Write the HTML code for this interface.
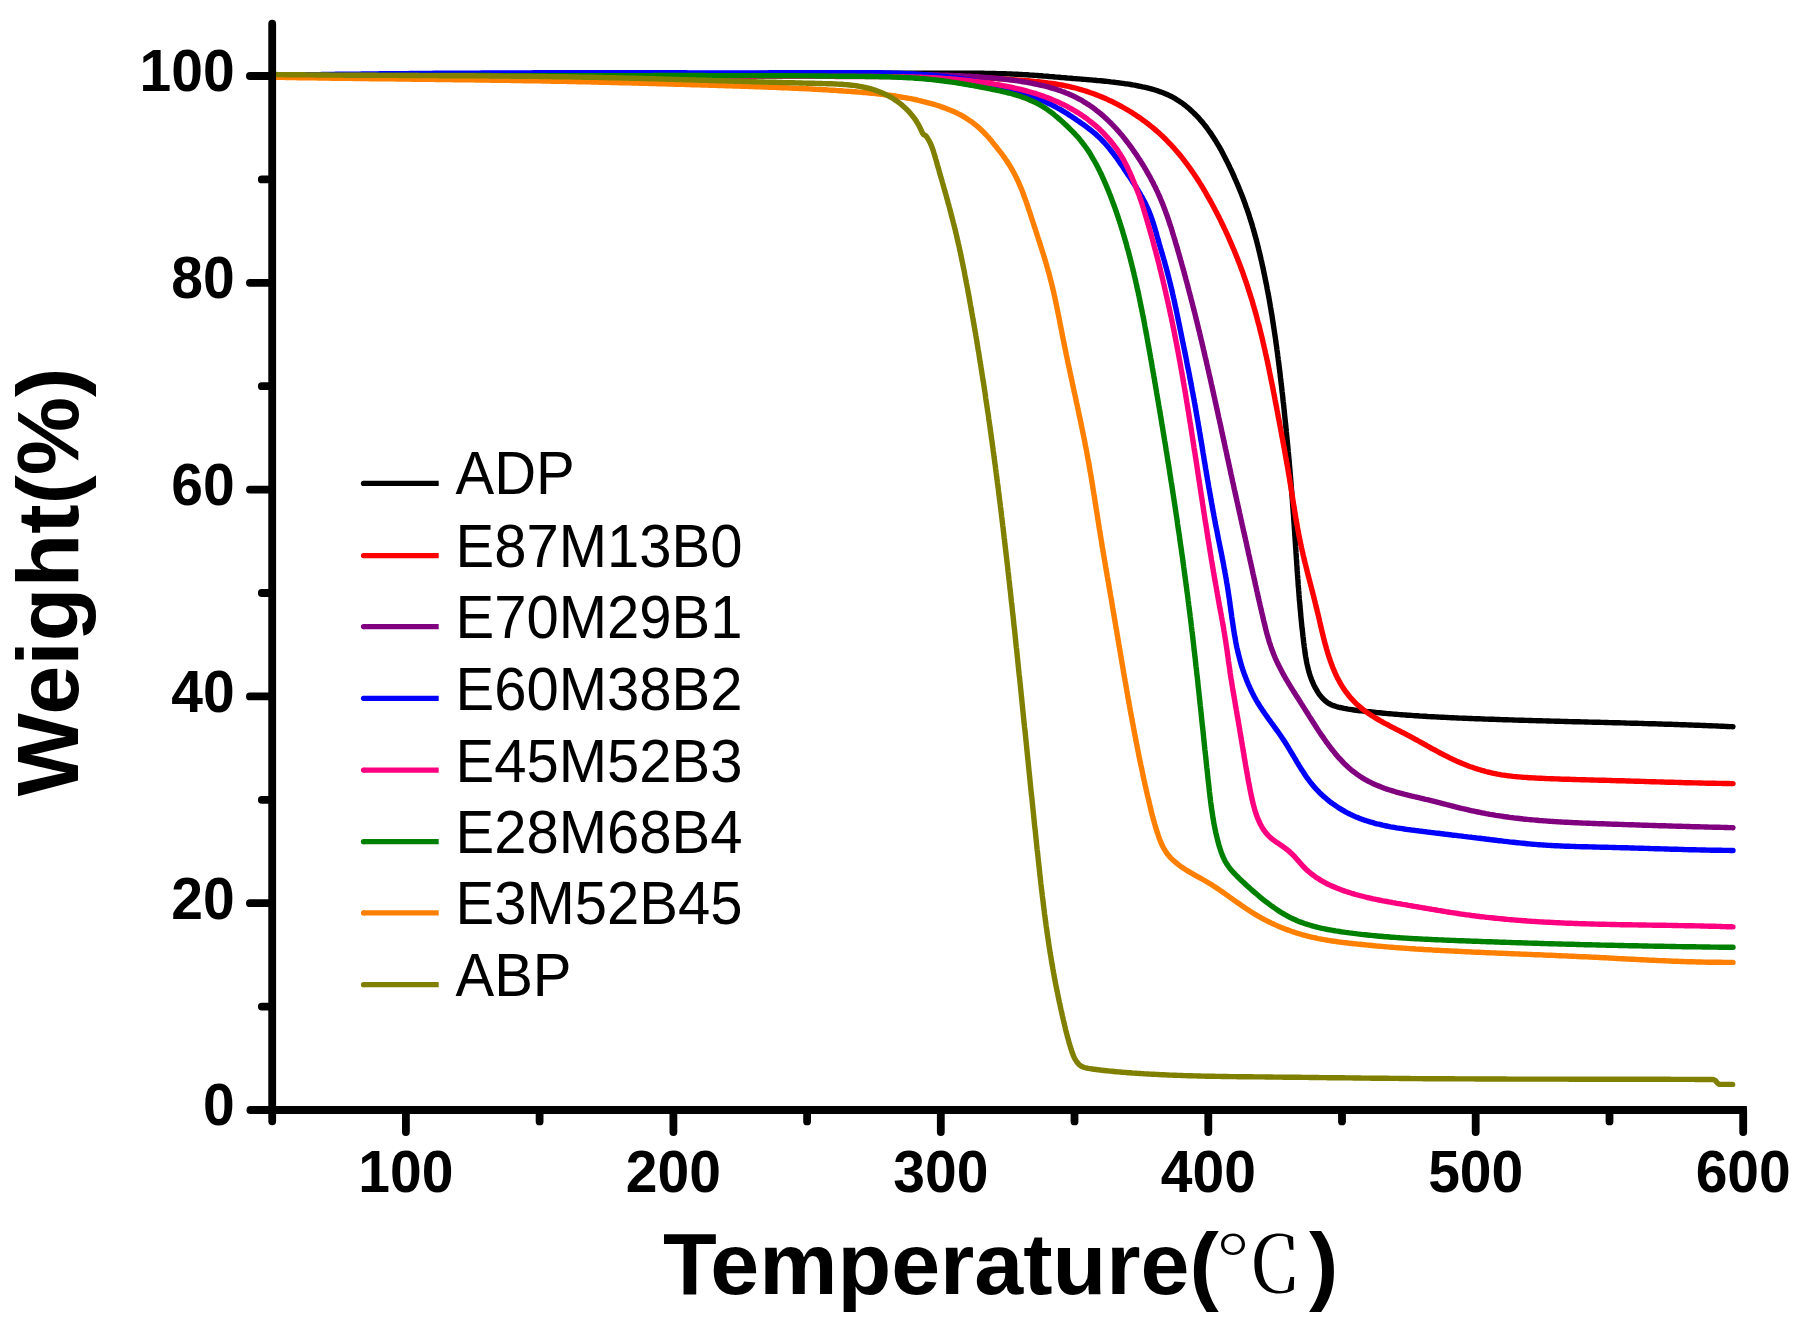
<!DOCTYPE html>
<html><head><meta charset="utf-8"><style>
html,body{margin:0;padding:0;background:#fff;width:1803px;height:1326px;overflow:hidden;}
svg{display:block;}
.tl{font-family:"Liberation Sans",Arial,sans-serif;font-weight:bold;font-size:57px;fill:#000;}
.ti{font-family:"Liberation Sans",Arial,sans-serif;font-weight:bold;font-size:88px;fill:#000;}
.deg{font-family:"Liberation Serif","Noto Serif CJK SC",serif;font-weight:normal;font-size:88px;fill:#000;}
.lg{font-family:"Liberation Sans",Arial,sans-serif;font-size:58px;fill:#000;}
</style></head><body>
<svg width="1803" height="1326" viewBox="0 0 1803 1326">
<rect width="100%" height="100%" fill="#fff"/>
<path d="M272.0,75.5 274.0,75.5 276.0,75.5 278.0,75.5 280.0,75.5 282.1,75.5 284.0,75.5 286.1,75.5 288.0,75.4 290.1,75.4 292.0,75.4 294.1,75.4 296.0,75.4 298.0,75.4 300.0,75.4 302.0,75.4 304.0,75.4 306.0,75.4 308.0,75.3 310.0,75.3 312.0,75.3 314.0,75.3 316.0,75.3 318.0,75.3 320.0,75.3 322.0,75.3 323.9,75.3 326.0,75.3 327.9,75.2 330.0,75.2 332.0,75.2 334.0,75.2 336.0,75.2 338.0,75.2 340.0,75.2 342.0,75.2 344.0,75.2 346.0,75.2 348.0,75.1 350.0,75.1 352.0,75.1 353.9,75.1 356.0,75.1 357.9,75.1 360.0,75.1 361.9,75.1 364.0,75.1 365.9,75.1 368.0,75.0 369.9,75.0 372.0,75.0 373.9,75.0 376.0,75.0 377.9,75.0 379.9,75.0 381.9,75.0 383.9,75.0 385.9,75.0 387.9,74.9 390.0,74.9 391.9,74.9 394.0,74.9 395.9,74.9 398.0,74.9 399.9,74.9 402.0,74.9 403.9,74.9 405.9,74.9 407.9,74.9 409.9,74.8 411.9,74.8 413.9,74.8 415.9,74.8 417.9,74.8 419.9,74.8 421.9,74.8 423.9,74.8 425.9,74.8 427.9,74.8 429.9,74.8 431.8,74.7 433.9,74.7 435.8,74.7 437.9,74.7 439.8,74.7 441.9,74.7 443.8,74.7 445.9,74.7 447.8,74.7 449.9,74.7 451.9,74.7 453.9,74.6 455.9,74.6 457.9,74.6 459.9,74.6 461.8,74.6 463.9,74.6 465.8,74.6 467.9,74.6 469.8,74.6 471.9,74.6 473.8,74.6 475.9,74.6 477.8,74.5 479.9,74.5 481.8,74.5 483.9,74.5 485.8,74.5 487.8,74.5 489.8,74.5 491.8,74.5 493.8,74.5 495.8,74.5 497.8,74.5 499.8,74.4 501.8,74.4 503.8,74.4 505.8,74.4 507.8,74.4 509.8,74.4 511.8,74.4 513.9,74.4 515.8,74.4 517.8,74.4 519.8,74.4 521.8,74.4 523.8,74.4 525.8,74.3 527.8,74.3 529.8,74.3 531.8,74.3 533.8,74.3 535.8,74.3 537.8,74.3 539.8,74.3 541.8,74.3 543.7,74.3 545.8,74.3 547.7,74.3 549.8,74.2 551.7,74.2 553.8,74.2 555.7,74.2 557.8,74.2 559.7,74.2 561.8,74.2 563.7,74.2 565.8,74.2 567.7,74.2 569.7,74.2 571.7,74.2 573.7,74.2 575.8,74.1 577.7,74.1 579.8,74.1 581.7,74.1 583.8,74.1 585.7,74.1 587.8,74.1 589.7,74.1 591.8,74.1 593.7,74.1 595.8,74.1 597.7,74.1 599.7,74.1 601.7,74.1 603.7,74.0 605.7,74.0 607.7,74.0 609.7,74.0 611.7,74.0 613.7,74.0 615.7,74.0 617.7,74.0 619.7,74.0 621.7,74.0 623.7,74.0 625.6,74.0 627.7,74.0 629.6,74.0 631.7,73.9 633.7,73.9 635.7,73.9 637.7,73.9 639.7,73.9 641.7,73.9 643.7,73.9 645.7,73.9 647.7,73.9 649.7,73.9 651.7,73.9 653.7,73.9 655.6,73.9 657.7,73.9 659.6,73.9 661.7,73.8 663.6,73.8 665.7,73.8 667.6,73.8 669.7,73.8 671.6,73.8 673.7,73.8 675.6,73.8 677.7,73.8 679.6,73.8 681.6,73.8 683.6,73.8 685.6,73.8 687.6,73.8 689.6,73.8 691.6,73.8 693.6,73.7 695.7,73.7 697.6,73.7 699.7,73.7 701.6,73.7 703.7,73.7 705.6,73.7 707.6,73.7 709.6,73.7 711.6,73.7 713.6,73.7 715.6,73.7 717.6,73.7 719.6,73.7 721.6,73.7 723.6,73.7 725.6,73.6 727.6,73.6 729.6,73.6 731.6,73.6 733.6,73.6 735.6,73.6 737.5,73.6 739.6,73.6 741.5,73.6 743.6,73.6 745.5,73.6 747.6,73.6 749.6,73.6 751.6,73.6 753.6,73.6 755.6,73.6 757.6,73.6 759.6,73.5 761.6,73.5 763.5,73.5 765.6,73.5 767.5,73.5 769.6,73.5 771.5,73.5 773.6,73.5 775.5,73.5 777.6,73.5 779.5,73.5 781.6,73.5 783.5,73.5 785.6,73.5 787.5,73.5 789.5,73.5 791.5,73.5 793.5,73.5 795.5,73.5 797.5,73.4 799.5,73.4 801.5,73.4 803.5,73.4 805.5,73.4 807.6,73.4 809.5,73.4 811.6,73.4 813.5,73.4 815.5,73.4 817.5,73.4 819.5,73.4 821.5,73.4 823.5,73.4 825.5,73.4 827.5,73.4 829.5,73.4 831.5,73.4 833.5,73.4 835.5,73.4 837.4,73.3 839.5,73.3 841.4,73.3 843.5,73.3 845.4,73.3 847.5,73.3 849.4,73.3 851.5,73.3 853.4,73.3 855.5,73.3 857.5,73.3 859.5,73.3 861.5,73.3 863.4,73.3 865.5,73.3 867.4,73.3 869.5,73.3 871.4,73.3 873.5,73.3 875.4,73.3 877.5,73.3 879.4,73.3 881.5,73.3 883.4,73.3 885.5,73.3 887.4,73.2 889.5,73.2 891.4,73.2 893.4,73.2 895.4,73.2 897.4,73.2 899.4,73.2 901.4,73.2 903.4,73.2 905.4,73.2 907.4,73.2 909.4,73.2 911.4,73.2 913.4,73.2 915.4,73.2 917.4,73.2 919.5,73.2 921.4,73.2 923.4,73.2 925.4,73.2 927.4,73.2 929.4,73.2 931.4,73.2 933.4,73.2 935.4,73.2 937.4,73.2 939.4,73.2 941.4,73.2 943.4,73.2 945.4,73.2 947.4,73.2 949.4,73.2 951.4,73.2 953.4,73.2 955.4,73.2 957.3,73.2 959.4,73.2 961.3,73.2 963.4,73.2 965.3,73.2 967.4,73.2 969.3,73.2 971.4,73.3 973.3,73.3 975.4,73.3 977.3,73.3 979.4,73.3 981.3,73.3 983.4,73.3 985.3,73.4 987.4,73.4 989.3,73.4 991.4,73.4 993.3,73.5 995.4,73.5 997.3,73.6 999.3,73.6 1001.3,73.7 1003.3,73.7 1005.3,73.8 1007.3,73.9 1009.3,73.9 1011.3,74.0 1013.3,74.1 1015.3,74.2 1017.2,74.3 1019.3,74.4 1021.3,74.5 1023.3,74.6 1025.3,74.7 1027.3,74.8 1029.3,75.0 1031.2,75.1 1033.3,75.2 1035.2,75.4 1037.3,75.5 1039.2,75.7 1041.2,75.8 1043.2,76.0 1045.2,76.1 1047.2,76.3 1049.2,76.5 1051.1,76.6 1053.2,76.8 1055.1,77.0 1057.2,77.1 1059.1,77.3 1061.2,77.5 1063.1,77.6 1065.2,77.8 1067.1,78.0 1069.1,78.1 1071.1,78.3 1073.1,78.5 1075.0,78.6 1077.1,78.8 1079.0,78.9 1081.0,79.1 1083.1,79.3 1085.0,79.4 1087.0,79.6 1089.0,79.8 1091.0,79.9 1093.0,80.1 1095.0,80.3 1097.0,80.5 1098.9,80.6 1100.9,80.8 1103.0,81.0 1104.9,81.2 1106.9,81.4 1108.9,81.6 1110.9,81.9 1112.8,82.1 1114.9,82.3 1116.8,82.6 1118.9,82.8 1120.8,83.1 1122.7,83.4 1124.8,83.7 1126.7,83.9 1128.7,84.2 1130.6,84.5 1132.7,84.9 1134.6,85.2 1136.6,85.6 1138.5,86.0 1140.5,86.3 1142.5,86.8 1144.4,87.2 1146.4,87.6 1148.3,88.1 1150.2,88.6 1152.2,89.2 1154.1,89.7 1156.0,90.3 1157.9,90.9 1159.7,91.6 1161.7,92.3 1163.6,93.0 1165.3,93.7 1167.2,94.5 1169.1,95.4 1170.8,96.2 1172.6,97.2 1174.4,98.1 1176.1,99.2 1177.7,100.2 1179.4,101.3 1181.1,102.4 1182.8,103.6 1184.3,104.7 1185.9,106.0 1187.5,107.3 1188.9,108.5 1190.5,109.9 1191.9,111.2 1193.4,112.6 1194.8,114.0 1196.2,115.4 1197.6,116.8 1198.9,118.3 1200.2,119.8 1201.6,121.3 1202.8,122.8 1204.1,124.4 1205.4,126.0 1206.6,127.5 1207.8,129.2 1208.9,130.8 1210.1,132.4 1211.3,134.1 1212.3,135.7 1213.4,137.3 1214.5,139.1 1215.6,140.7 1216.6,142.5 1217.6,144.1 1218.7,145.9 1219.7,147.6 1220.7,149.4 1221.6,151.1 1222.5,152.8 1223.5,154.7 1224.4,156.4 1225.3,158.2 1226.2,160.0 1227.1,161.8 1228.0,163.5 1228.9,165.4 1229.7,167.2 1230.6,168.9 1231.4,170.8 1232.3,172.5 1233.1,174.4 1233.9,176.2 1234.7,178.1 1235.5,179.8 1236.3,181.7 1237.1,183.5 1237.9,185.4 1238.7,187.3 1239.4,189.1 1240.2,191.0 1240.9,192.8 1241.7,194.7 1242.4,196.5 1243.1,198.4 1243.8,200.2 1244.5,202.1 1245.2,204.0 1245.8,205.9 1246.5,207.7 1247.2,209.7 1247.8,211.5 1248.5,213.5 1249.1,215.3 1249.7,217.3 1250.3,219.1 1250.9,221.1 1251.5,222.9 1252.1,224.9 1252.6,226.8 1253.2,228.7 1253.7,230.6 1254.3,232.5 1254.8,234.5 1255.3,236.4 1255.9,238.3 1256.4,240.2 1256.9,242.2 1257.4,244.1 1257.9,246.1 1258.4,248.0 1258.8,249.9 1259.3,251.9 1259.8,253.8 1260.2,255.8 1260.7,257.7 1261.1,259.6 1261.6,261.6 1262.0,263.5 1262.4,265.5 1262.9,267.4 1263.3,269.4 1263.7,271.4 1264.1,273.4 1264.5,275.3 1264.9,277.2 1265.3,279.2 1265.7,281.1 1266.1,283.1 1266.5,285.0 1266.9,287.1 1267.2,289.0 1267.6,291.0 1268.0,292.9 1268.4,294.9 1268.7,296.8 1269.1,298.9 1269.4,300.8 1269.8,302.8 1270.1,304.7 1270.4,306.7 1270.8,308.7 1271.1,310.7 1271.4,312.6 1271.8,314.6 1272.1,316.5 1272.4,318.6 1272.7,320.5 1273.0,322.5 1273.3,324.4 1273.6,326.5 1273.9,328.4 1274.2,330.3 1274.5,332.3 1274.8,334.3 1275.1,336.3 1275.4,338.2 1275.7,340.3 1275.9,342.2 1276.2,344.2 1276.5,346.1 1276.8,348.2 1277.0,350.1 1277.3,352.1 1277.6,354.1 1277.8,356.1 1278.1,358.0 1278.3,360.1 1278.6,362.0 1278.8,364.0 1279.1,366.0 1279.3,368.0 1279.6,369.9 1279.8,372.0 1280.1,373.9 1280.3,376.0 1280.5,377.9 1280.8,379.9 1281.0,381.9 1281.2,383.9 1281.5,385.8 1281.7,387.8 1281.9,389.8 1282.1,391.8 1282.4,393.8 1282.6,395.7 1282.8,397.8 1283.0,399.7 1283.2,401.8 1283.5,403.7 1283.7,405.7 1283.9,407.7 1284.1,409.6 1284.3,411.7 1284.5,413.6 1284.7,415.7 1284.9,417.6 1285.1,419.6 1285.3,421.6 1285.5,423.5 1285.8,425.6 1285.9,427.5 1286.2,429.6 1286.3,431.5 1286.5,433.6 1286.7,435.5 1286.9,437.5 1287.1,439.5 1287.3,441.4 1287.5,443.5 1287.7,445.4 1287.9,447.5 1288.1,449.4 1288.2,451.5 1288.4,453.4 1288.6,455.4 1288.8,457.4 1289.0,459.4 1289.1,461.4 1289.3,463.3 1289.5,465.4 1289.7,467.3 1289.8,469.3 1290.0,471.3 1290.2,473.3 1290.4,475.3 1290.5,477.3 1290.7,479.3 1290.8,481.3 1291.0,483.3 1291.2,485.3 1291.3,487.3 1291.5,489.2 1291.7,491.2 1291.8,493.2 1292.0,495.2 1292.1,497.2 1292.3,499.2 1292.4,501.2 1292.6,503.2 1292.7,505.2 1292.9,507.2 1293.0,509.2 1293.2,511.1 1293.3,513.2 1293.5,515.1 1293.6,517.2 1293.7,519.1 1293.9,521.2 1294.0,523.1 1294.2,525.1 1294.3,527.1 1294.4,529.1 1294.6,531.1 1294.7,533.1 1294.8,535.1 1295.0,537.1 1295.1,539.0 1295.2,541.1 1295.4,543.0 1295.5,545.1 1295.6,547.0 1295.8,549.0 1295.9,551.0 1296.0,553.0 1296.2,555.1 1296.3,557.0 1296.4,559.0 1296.6,561.0 1296.7,563.0 1296.8,565.0 1297.0,567.0 1297.1,569.0 1297.2,571.0 1297.4,572.9 1297.5,575.0 1297.7,576.9 1297.8,579.0 1298.0,580.9 1298.1,582.9 1298.2,584.9 1298.4,586.9 1298.6,588.9 1298.7,590.9 1298.9,592.9 1299.0,594.9 1299.2,596.9 1299.3,598.9 1299.5,600.9 1299.7,602.8 1299.9,604.8 1300.0,606.8 1300.2,608.8 1300.4,610.8 1300.6,612.7 1300.7,614.8 1300.9,616.7 1301.1,618.8 1301.3,620.8 1301.5,622.7 1301.7,624.8 1301.9,626.7 1302.1,628.7 1302.4,630.7 1302.6,632.7 1302.8,634.6 1303.0,636.6 1303.3,638.7 1303.5,640.6 1303.7,642.6 1304.0,644.5 1304.2,646.6 1304.5,648.6 1304.8,650.5 1305.0,652.5 1305.3,654.4 1305.6,656.5 1306.0,658.4 1306.3,660.3 1306.7,662.4 1307.1,664.3 1307.6,666.3 1308.0,668.2 1308.5,670.1 1309.0,672.1 1309.6,674.0 1310.2,675.9 1310.9,677.8 1311.6,679.7 1312.3,681.4 1313.1,683.3 1313.9,685.1 1314.8,686.9 1315.8,688.7 1316.8,690.4 1317.8,692.1 1318.9,693.8 1320.1,695.4 1321.4,697.0 1322.7,698.4 1324.1,699.8 1325.6,701.1 1327.2,702.4 1328.9,703.5 1330.6,704.4 1332.5,705.2 1334.4,705.9 1336.2,706.5 1338.2,707.1 1340.1,707.5 1342.0,707.9 1344.0,708.4 1346.0,708.7 1348.0,709.1 1349.9,709.4 1351.9,709.7 1353.9,710.0 1355.9,710.2 1357.8,710.5 1359.9,710.7 1361.8,710.9 1363.8,711.2 1365.8,711.4 1367.8,711.6 1369.7,711.8 1371.8,712.0 1373.7,712.2 1375.7,712.4 1377.7,712.6 1379.7,712.8 1381.6,713.0 1383.7,713.2 1385.6,713.4 1387.7,713.6 1389.6,713.7 1391.7,713.9 1393.6,714.1 1395.6,714.2 1397.6,714.4 1399.6,714.6 1401.6,714.7 1403.6,714.9 1405.6,715.0 1407.6,715.2 1409.5,715.3 1411.6,715.4 1413.5,715.6 1415.5,715.7 1417.5,715.8 1419.5,716.0 1421.5,716.1 1423.5,716.2 1425.5,716.3 1427.5,716.5 1429.5,716.6 1431.5,716.7 1433.5,716.8 1435.5,716.9 1437.5,717.0 1439.5,717.1 1441.5,717.2 1443.5,717.3 1445.4,717.4 1447.5,717.5 1449.4,717.6 1451.5,717.7 1453.4,717.8 1455.4,717.9 1457.4,718.0 1459.4,718.1 1461.4,718.1 1463.4,718.2 1465.4,718.3 1467.4,718.4 1469.4,718.5 1471.4,718.5 1473.4,718.6 1475.4,718.7 1477.4,718.8 1479.4,718.8 1481.4,718.9 1483.3,719.0 1485.4,719.1 1487.3,719.1 1489.4,719.2 1491.3,719.3 1493.4,719.3 1495.3,719.4 1497.4,719.5 1499.3,719.5 1501.4,719.6 1503.3,719.7 1505.4,719.7 1507.3,719.8 1509.4,719.9 1511.3,719.9 1513.4,720.0 1515.3,720.1 1517.3,720.1 1519.3,720.2 1521.3,720.2 1523.3,720.3 1525.3,720.4 1527.3,720.4 1529.3,720.5 1531.3,720.5 1533.3,720.6 1535.3,720.6 1537.3,720.7 1539.3,720.8 1541.3,720.8 1543.2,720.9 1545.3,720.9 1547.3,721.0 1549.3,721.0 1551.3,721.1 1553.3,721.1 1555.3,721.2 1557.3,721.2 1559.3,721.3 1561.3,721.4 1563.3,721.4 1565.3,721.5 1567.3,721.5 1569.2,721.6 1571.3,721.6 1573.2,721.7 1575.3,721.7 1577.2,721.8 1579.3,721.8 1581.2,721.9 1583.3,721.9 1585.2,722.0 1587.3,722.0 1589.2,722.1 1591.2,722.1 1593.2,722.2 1595.2,722.2 1597.2,722.3 1599.2,722.3 1601.2,722.4 1603.2,722.4 1605.3,722.5 1607.2,722.5 1609.2,722.6 1611.2,722.6 1613.2,722.7 1615.2,722.7 1617.2,722.8 1619.2,722.8 1621.2,722.9 1623.2,722.9 1625.2,723.0 1627.2,723.1 1629.2,723.1 1631.1,723.2 1633.2,723.2 1635.1,723.3 1637.2,723.3 1639.1,723.4 1641.2,723.4 1643.1,723.5 1645.2,723.6 1647.1,723.6 1649.2,723.7 1651.1,723.7 1653.2,723.8 1655.1,723.8 1657.1,723.9 1659.1,724.0 1661.1,724.0 1663.1,724.1 1665.1,724.2 1667.2,724.2 1669.1,724.3 1671.2,724.3 1673.1,724.4 1675.2,724.5 1677.1,724.5 1679.2,724.6 1681.1,724.7 1683.1,724.7 1685.1,724.8 1687.1,724.9 1689.1,725.0 1691.1,725.0 1693.1,725.1 1695.1,725.2 1697.1,725.2 1699.1,725.3 1701.1,725.4 1703.0,725.5 1705.1,725.5 1707.0,725.6 1709.1,725.7 1711.0,725.8 1713.1,725.9 1715.0,725.9 1717.1,726.0 1719.0,726.1 1721.1,726.2 1723.0,726.3 1725.1,726.4 1727.0,726.5 1729.1,726.6 1731.0,726.6 1733.0,726.7" fill="none" stroke="#000000" stroke-width="5.4" stroke-linejoin="round" stroke-linecap="round"/>
<path d="M272.0,75.5 274.0,75.5 276.0,75.5 278.0,75.5 280.0,75.5 282.0,75.5 284.0,75.5 286.0,75.5 288.0,75.5 290.0,75.5 292.0,75.5 294.0,75.5 296.0,75.5 298.1,75.5 300.1,75.5 302.1,75.4 304.1,75.4 306.1,75.4 308.1,75.4 310.1,75.4 312.1,75.4 314.1,75.4 316.0,75.4 318.0,75.4 320.0,75.4 322.0,75.4 324.0,75.4 326.0,75.4 328.0,75.4 330.0,75.4 332.0,75.4 334.0,75.4 336.0,75.4 338.0,75.4 340.0,75.4 342.1,75.4 344.1,75.4 346.1,75.4 348.1,75.4 350.1,75.4 352.1,75.4 354.1,75.4 356.1,75.4 358.1,75.4 360.0,75.4 362.0,75.4 364.0,75.4 366.0,75.4 368.0,75.4 370.0,75.4 372.0,75.4 374.0,75.4 376.0,75.3 378.0,75.3 380.0,75.3 382.0,75.3 384.0,75.3 386.1,75.3 388.1,75.3 390.1,75.3 392.1,75.3 394.1,75.3 396.1,75.3 398.1,75.3 400.1,75.3 402.1,75.3 404.0,75.3 406.0,75.3 408.0,75.3 410.0,75.3 412.0,75.3 414.0,75.3 416.0,75.3 418.0,75.3 420.0,75.3 422.0,75.3 424.0,75.3 426.0,75.3 428.0,75.3 430.0,75.3 432.1,75.3 434.1,75.3 436.1,75.3 438.1,75.3 440.1,75.3 442.1,75.2 444.1,75.2 446.1,75.2 448.1,75.2 450.0,75.2 452.0,75.2 454.0,75.2 456.0,75.2 458.0,75.2 460.0,75.2 462.0,75.2 464.0,75.2 466.0,75.2 468.0,75.2 470.0,75.2 472.0,75.2 474.0,75.2 476.0,75.2 478.1,75.2 480.1,75.2 482.1,75.2 484.1,75.2 486.1,75.2 488.1,75.2 490.1,75.2 492.1,75.2 494.0,75.2 496.0,75.2 498.0,75.2 500.0,75.2 502.0,75.2 504.0,75.2 506.0,75.1 508.0,75.1 510.0,75.1 512.0,75.1 514.0,75.1 516.0,75.1 518.0,75.1 520.0,75.1 522.0,75.1 524.1,75.1 526.1,75.1 528.1,75.1 530.1,75.1 532.1,75.1 534.1,75.1 536.1,75.1 538.1,75.1 540.0,75.1 542.0,75.1 544.0,75.1 546.0,75.1 548.0,75.1 550.0,75.1 552.0,75.1 554.0,75.1 556.0,75.1 558.0,75.1 560.0,75.1 562.0,75.1 564.0,75.1 566.0,75.0 568.0,75.0 570.1,75.0 572.1,75.0 574.1,75.0 576.1,75.0 578.1,75.0 580.1,75.0 582.1,75.0 584.1,75.0 586.0,75.0 588.0,75.0 590.0,75.0 592.0,75.0 594.0,75.0 596.0,75.0 598.0,75.0 600.0,75.0 602.0,75.0 604.0,75.0 606.0,75.0 608.0,75.0 610.0,75.0 612.0,75.0 614.0,75.0 616.1,75.0 618.1,75.0 620.1,75.0 622.1,75.0 624.1,75.0 626.1,74.9 628.1,74.9 630.1,74.9 632.0,74.9 634.0,74.9 636.0,74.9 638.0,74.9 640.0,74.9 642.0,74.9 644.0,74.9 646.0,74.9 648.0,74.9 650.0,74.9 652.0,74.9 654.0,74.9 656.0,74.9 658.0,74.9 660.0,74.9 662.1,74.9 664.1,74.9 666.1,74.9 668.1,74.9 670.1,74.9 672.1,74.9 674.1,74.9 676.0,74.9 678.0,74.9 680.0,74.9 682.0,74.9 684.0,74.8 686.0,74.8 688.0,74.8 690.0,74.8 692.0,74.8 694.0,74.8 696.0,74.8 698.0,74.8 700.0,74.8 702.0,74.8 704.0,74.8 706.1,74.8 708.1,74.8 710.1,74.8 712.1,74.8 714.1,74.8 716.1,74.8 718.1,74.8 720.1,74.8 722.0,74.8 724.0,74.8 726.0,74.8 728.0,74.8 730.0,74.8 732.0,74.8 734.0,74.8 736.0,74.8 738.0,74.8 740.0,74.8 742.0,74.7 744.0,74.7 746.0,74.7 748.0,74.7 750.1,74.7 752.1,74.7 754.1,74.7 756.1,74.7 758.1,74.7 760.1,74.7 762.1,74.7 764.1,74.7 766.0,74.7 768.0,74.7 770.0,74.7 772.0,74.7 774.0,74.7 776.0,74.7 778.0,74.7 780.0,74.7 782.0,74.7 784.0,74.7 786.0,74.7 788.0,74.7 790.0,74.7 792.0,74.7 794.1,74.7 796.1,74.7 798.1,74.6 800.1,74.6 802.1,74.6 804.1,74.6 806.1,74.6 808.0,74.6 810.0,74.6 812.0,74.6 814.0,74.6 816.0,74.6 818.0,74.6 820.0,74.6 822.0,74.6 824.0,74.6 826.0,74.6 828.0,74.6 830.0,74.6 832.0,74.6 834.0,74.6 836.1,74.6 838.1,74.6 840.1,74.6 842.1,74.6 844.1,74.6 846.1,74.6 848.1,74.6 850.0,74.6 852.0,74.6 854.0,74.6 856.0,74.6 858.0,74.6 860.0,74.6 862.0,74.6 864.0,74.6 866.0,74.6 868.0,74.6 870.0,74.6 872.0,74.6 874.0,74.6 876.0,74.7 878.0,74.7 880.0,74.7 882.1,74.7 884.1,74.7 886.1,74.7 888.1,74.7 890.1,74.8 892.1,74.8 894.1,74.8 896.0,74.8 898.0,74.9 900.0,74.9 902.0,74.9 904.0,74.9 906.0,75.0 908.0,75.0 910.0,75.0 912.0,75.1 914.0,75.1 916.0,75.2 918.0,75.2 920.0,75.2 922.0,75.3 924.0,75.3 926.0,75.4 928.0,75.4 930.0,75.5 932.0,75.5 934.0,75.6 936.0,75.7 938.0,75.7 940.0,75.8 942.0,75.8 944.0,75.9 946.0,76.0 948.0,76.1 950.0,76.1 952.1,76.2 954.1,76.3 956.1,76.4 958.0,76.4 960.0,76.5 962.0,76.6 964.0,76.7 966.0,76.8 968.0,76.9 970.0,77.0 972.0,77.1 974.0,77.2 976.0,77.3 978.0,77.4 980.0,77.5 982.0,77.7 984.0,77.8 986.0,77.9 988.0,78.0 990.0,78.1 992.0,78.3 994.0,78.4 996.0,78.5 998.0,78.7 1000.0,78.8 1002.0,78.9 1004.0,79.1 1005.9,79.2 1007.9,79.3 1009.9,79.5 1011.9,79.6 1013.9,79.8 1015.9,79.9 1017.9,80.1 1019.9,80.2 1021.9,80.4 1023.9,80.5 1025.9,80.7 1027.8,80.8 1029.8,81.0 1031.8,81.2 1033.8,81.4 1035.8,81.6 1037.8,81.8 1039.8,82.0 1041.8,82.2 1043.8,82.4 1045.8,82.6 1047.8,82.9 1049.8,83.1 1051.8,83.4 1053.7,83.7 1055.7,84.0 1057.7,84.3 1059.7,84.7 1061.6,85.0 1063.6,85.4 1065.5,85.8 1067.5,86.2 1069.4,86.6 1071.4,87.1 1073.3,87.5 1075.3,88.0 1077.2,88.5 1079.1,89.1 1081.0,89.6 1082.9,90.2 1084.8,90.8 1086.7,91.4 1088.6,92.0 1090.5,92.7 1092.4,93.3 1094.3,94.0 1096.2,94.7 1098.1,95.5 1100.0,96.2 1101.8,97.0 1103.6,97.8 1105.5,98.6 1107.3,99.4 1109.0,100.2 1110.9,101.0 1112.7,101.9 1114.5,102.8 1116.2,103.7 1118.0,104.6 1119.8,105.6 1121.6,106.5 1123.3,107.5 1125.1,108.5 1126.8,109.5 1128.5,110.5 1130.2,111.5 1131.9,112.6 1133.6,113.7 1135.3,114.8 1136.9,115.9 1138.6,117.0 1140.3,118.1 1141.9,119.3 1143.5,120.5 1145.1,121.6 1146.7,122.8 1148.3,124.0 1149.9,125.3 1151.4,126.5 1153.0,127.8 1154.5,129.1 1156.0,130.4 1157.5,131.7 1159.0,133.0 1160.5,134.4 1162.0,135.8 1163.4,137.1 1164.8,138.5 1166.2,139.9 1167.6,141.3 1169.0,142.8 1170.5,144.3 1171.8,145.8 1173.2,147.2 1174.5,148.7 1175.8,150.2 1177.1,151.7 1178.4,153.2 1179.7,154.8 1180.9,156.3 1182.2,157.9 1183.4,159.5 1184.6,161.0 1185.8,162.6 1187.0,164.2 1188.2,165.8 1189.4,167.4 1190.5,169.1 1191.7,170.7 1192.8,172.4 1194.0,174.0 1195.1,175.7 1196.2,177.3 1197.3,179.0 1198.4,180.7 1199.4,182.4 1200.5,184.1 1201.6,185.8 1202.6,187.5 1203.6,189.3 1204.7,191.0 1205.7,192.7 1206.6,194.4 1207.6,196.1 1208.6,197.9 1209.6,199.6 1210.6,201.4 1211.6,203.1 1212.5,204.9 1213.5,206.7 1214.4,208.4 1215.3,210.2 1216.3,212.0 1217.1,213.7 1218.1,215.5 1219.0,217.3 1219.9,219.1 1220.8,220.9 1221.6,222.7 1222.5,224.5 1223.4,226.3 1224.2,228.1 1225.1,229.9 1225.9,231.7 1226.8,233.6 1227.6,235.4 1228.4,237.2 1229.2,239.0 1230.0,240.8 1230.8,242.6 1231.6,244.5 1232.4,246.3 1233.2,248.2 1234.0,250.0 1234.7,251.9 1235.5,253.7 1236.2,255.6 1237.0,257.4 1237.7,259.3 1238.4,261.2 1239.2,263.0 1239.9,264.9 1240.6,266.8 1241.3,268.7 1242.0,270.5 1242.7,272.4 1243.3,274.3 1244.0,276.2 1244.7,278.1 1245.3,280.0 1246.0,281.9 1246.6,283.8 1247.3,285.7 1247.9,287.6 1248.5,289.5 1249.1,291.4 1249.7,293.2 1250.3,295.1 1250.9,297.0 1251.5,298.9 1252.1,300.8 1252.7,302.8 1253.2,304.7 1253.8,306.6 1254.3,308.5 1254.9,310.4 1255.4,312.4 1256.0,314.3 1256.5,316.2 1257.0,318.2 1257.5,320.1 1258.0,322.0 1258.6,324.0 1259.1,325.9 1259.6,327.8 1260.0,329.8 1260.5,331.7 1261.0,333.7 1261.5,335.6 1262.0,337.6 1262.4,339.5 1262.9,341.5 1263.3,343.4 1263.8,345.4 1264.2,347.3 1264.7,349.3 1265.1,351.2 1265.5,353.1 1266.0,355.1 1266.4,357.0 1266.8,359.0 1267.3,360.9 1267.7,362.9 1268.1,364.9 1268.5,366.8 1268.9,368.8 1269.3,370.8 1269.7,372.7 1270.1,374.7 1270.5,376.6 1270.9,378.6 1271.3,380.6 1271.7,382.5 1272.1,384.5 1272.5,386.4 1272.9,388.4 1273.2,390.3 1273.6,392.3 1274.0,394.3 1274.4,396.2 1274.8,398.2 1275.1,400.2 1275.5,402.1 1275.9,404.1 1276.3,406.1 1276.7,408.0 1277.0,410.0 1277.4,412.0 1277.8,414.0 1278.1,415.9 1278.5,417.9 1278.9,419.9 1279.3,421.8 1279.6,423.8 1280.0,425.8 1280.4,427.7 1280.7,429.7 1281.1,431.6 1281.5,433.5 1281.8,435.5 1282.2,437.5 1282.6,439.4 1282.9,441.4 1283.3,443.4 1283.6,445.4 1284.0,447.3 1284.4,449.3 1284.7,451.3 1285.1,453.2 1285.4,455.2 1285.8,457.2 1286.1,459.1 1286.5,461.1 1286.8,463.1 1287.2,465.1 1287.5,467.0 1287.9,469.0 1288.2,471.0 1288.5,473.0 1288.9,474.9 1289.2,476.9 1289.5,478.9 1289.8,480.9 1290.2,482.9 1290.5,484.8 1290.8,486.7 1291.1,488.7 1291.4,490.7 1291.7,492.7 1292.1,494.7 1292.4,496.6 1292.7,498.6 1293.0,500.6 1293.3,502.6 1293.6,504.6 1294.0,506.5 1294.3,508.5 1294.6,510.5 1294.9,512.4 1295.2,514.4 1295.6,516.4 1295.9,518.3 1296.2,520.3 1296.6,522.3 1296.9,524.3 1297.3,526.2 1297.6,528.2 1298.0,530.2 1298.4,532.2 1298.7,534.1 1299.1,536.1 1299.5,538.1 1299.9,540.0 1300.3,542.0 1300.7,543.9 1301.1,545.9 1301.5,547.8 1302.0,549.8 1302.4,551.7 1302.9,553.7 1303.3,555.6 1303.8,557.6 1304.2,559.5 1304.7,561.5 1305.2,563.4 1305.7,565.4 1306.2,567.3 1306.6,569.2 1307.1,571.2 1307.6,573.1 1308.1,575.0 1308.6,577.0 1309.1,578.9 1309.6,580.9 1310.1,582.8 1310.6,584.7 1311.1,586.7 1311.6,588.6 1312.1,590.5 1312.6,592.5 1313.1,594.4 1313.6,596.4 1314.1,598.3 1314.6,600.3 1315.1,602.2 1315.5,604.1 1316.0,606.0 1316.5,608.0 1317.0,609.9 1317.4,611.9 1317.9,613.8 1318.4,615.8 1318.8,617.7 1319.3,619.7 1319.7,621.6 1320.2,623.5 1320.6,625.5 1321.1,627.5 1321.5,629.4 1322.0,631.4 1322.5,633.3 1322.9,635.2 1323.4,637.1 1323.9,639.1 1324.4,641.0 1324.9,643.0 1325.4,644.9 1326.0,646.9 1326.5,648.8 1327.1,650.7 1327.6,652.6 1328.2,654.5 1328.8,656.5 1329.5,658.4 1330.1,660.2 1330.8,662.1 1331.5,664.0 1332.2,665.9 1332.9,667.7 1333.7,669.6 1334.4,671.4 1335.3,673.3 1336.1,675.1 1336.9,676.9 1337.8,678.7 1338.8,680.4 1339.7,682.2 1340.7,683.9 1341.7,685.6 1342.8,687.3 1343.9,689.0 1345.0,690.7 1346.2,692.3 1347.4,693.8 1348.7,695.5 1349.9,697.0 1351.2,698.5 1352.6,699.9 1354.0,701.4 1355.4,702.8 1356.8,704.2 1358.3,705.5 1359.9,706.9 1361.4,708.1 1362.9,709.4 1364.5,710.6 1366.1,711.8 1367.8,713.0 1369.4,714.1 1371.1,715.2 1372.8,716.3 1374.4,717.3 1376.2,718.4 1377.9,719.4 1379.6,720.4 1381.4,721.4 1383.1,722.4 1384.8,723.3 1386.6,724.2 1388.4,725.2 1390.1,726.1 1391.9,727.1 1393.7,727.9 1395.5,728.9 1397.3,729.8 1399.1,730.7 1400.8,731.6 1402.6,732.5 1404.4,733.4 1406.2,734.3 1408.0,735.3 1409.7,736.2 1411.4,737.1 1413.2,738.1 1415.0,739.1 1416.7,740.0 1418.5,741.0 1420.2,742.0 1422.0,742.9 1423.7,743.9 1425.5,744.9 1427.2,745.9 1429.0,746.8 1430.7,747.8 1432.4,748.8 1434.2,749.7 1435.9,750.7 1437.7,751.6 1439.5,752.6 1441.2,753.5 1443.0,754.4 1444.8,755.3 1446.5,756.2 1448.4,757.2 1450.2,758.1 1452.0,758.9 1453.8,759.8 1455.6,760.6 1457.5,761.4 1459.3,762.2 1461.1,763.0 1462.9,763.8 1464.8,764.5 1466.6,765.2 1468.5,766.0 1470.4,766.7 1472.3,767.3 1474.2,768.0 1476.1,768.6 1478.0,769.2 1479.9,769.8 1481.8,770.4 1483.8,770.9 1485.7,771.5 1487.6,772.0 1489.6,772.4 1491.5,772.9 1493.5,773.3 1495.4,773.7 1497.4,774.1 1499.4,774.4 1501.3,774.8 1503.3,775.1 1505.3,775.4 1507.3,775.7 1509.3,775.9 1511.2,776.1 1513.2,776.4 1515.2,776.6 1517.2,776.8 1519.2,776.9 1521.1,777.1 1523.1,777.3 1525.1,777.4 1527.1,777.5 1529.1,777.7 1531.1,777.8 1533.1,777.9 1535.1,778.0 1537.1,778.1 1539.2,778.2 1541.2,778.3 1543.2,778.4 1545.1,778.5 1547.1,778.6 1549.1,778.6 1551.1,778.7 1553.1,778.8 1555.1,778.9 1557.1,778.9 1559.1,779.0 1561.1,779.1 1563.1,779.2 1565.1,779.2 1567.1,779.3 1569.1,779.3 1571.1,779.4 1573.1,779.5 1575.1,779.5 1577.1,779.6 1579.1,779.6 1581.1,779.7 1583.1,779.7 1585.1,779.8 1587.1,779.9 1589.1,779.9 1591.1,780.0 1593.0,780.0 1595.0,780.1 1597.1,780.1 1599.1,780.2 1601.1,780.2 1603.1,780.3 1605.1,780.3 1607.1,780.4 1609.1,780.4 1611.1,780.5 1613.1,780.6 1615.1,780.6 1617.1,780.7 1619.1,780.7 1621.1,780.8 1623.1,780.8 1625.1,780.9 1627.1,781.0 1629.1,781.0 1631.1,781.1 1633.1,781.1 1635.1,781.2 1637.1,781.3 1639.1,781.3 1641.1,781.4 1643.1,781.4 1645.0,781.5 1647.0,781.6 1649.0,781.6 1651.0,781.7 1653.0,781.7 1655.0,781.8 1657.0,781.9 1659.1,781.9 1661.1,782.0 1663.1,782.0 1665.1,782.1 1667.1,782.2 1669.1,782.2 1671.1,782.3 1673.1,782.3 1675.1,782.4 1677.1,782.4 1679.1,782.5 1681.1,782.5 1683.1,782.6 1685.0,782.7 1687.0,782.7 1689.0,782.8 1691.0,782.8 1693.0,782.9 1695.0,782.9 1697.0,782.9 1699.0,783.0 1701.0,783.0 1703.0,783.1 1705.0,783.1 1707.1,783.2 1709.1,783.2 1711.1,783.3 1713.1,783.3 1715.1,783.3 1717.1,783.4 1719.1,783.4 1721.1,783.4 1723.1,783.5 1725.1,783.5 1727.1,783.5 1729.1,783.5 1731.1,783.6 1733.0,783.6" fill="none" stroke="#ff0000" stroke-width="5.4" stroke-linejoin="round" stroke-linecap="round"/>
<path d="M272.0,75.5 274.0,75.5 276.1,75.5 278.0,75.5 280.1,75.5 282.0,75.5 284.0,75.5 286.1,75.5 288.0,75.5 290.1,75.5 292.0,75.5 294.0,75.5 296.1,75.5 298.0,75.5 300.1,75.5 302.0,75.5 304.0,75.4 306.1,75.4 308.0,75.4 310.1,75.4 312.0,75.4 314.0,75.4 316.0,75.4 318.0,75.4 320.1,75.4 322.0,75.4 324.0,75.4 326.0,75.4 328.0,75.4 330.1,75.4 332.0,75.4 334.1,75.4 336.0,75.4 338.0,75.4 340.1,75.4 342.0,75.4 344.1,75.4 346.0,75.4 348.0,75.4 350.1,75.4 352.0,75.4 354.1,75.4 356.0,75.4 358.0,75.4 360.0,75.4 362.0,75.4 364.1,75.4 366.0,75.4 368.0,75.4 370.0,75.3 372.0,75.3 374.1,75.3 376.0,75.3 378.0,75.3 380.0,75.3 382.0,75.3 384.1,75.3 386.0,75.3 388.0,75.3 390.0,75.3 392.0,75.3 394.1,75.3 396.0,75.3 398.0,75.3 400.0,75.3 402.0,75.3 404.0,75.3 406.0,75.3 408.0,75.3 410.0,75.3 412.0,75.3 414.0,75.3 416.0,75.3 418.0,75.3 420.0,75.3 422.0,75.3 424.0,75.3 426.0,75.3 428.0,75.3 430.0,75.3 432.0,75.3 434.0,75.3 436.0,75.3 438.1,75.3 440.0,75.2 442.0,75.2 444.0,75.2 446.0,75.2 448.0,75.2 450.0,75.2 452.0,75.2 454.0,75.2 456.0,75.2 458.0,75.2 460.0,75.2 462.0,75.2 464.0,75.2 466.0,75.2 468.0,75.2 470.0,75.2 472.0,75.2 474.0,75.2 476.0,75.2 478.0,75.2 480.0,75.2 482.0,75.2 484.0,75.2 486.0,75.2 488.0,75.2 490.0,75.2 491.9,75.2 494.0,75.2 496.0,75.2 498.0,75.2 500.0,75.2 501.9,75.2 504.0,75.1 506.0,75.1 508.0,75.1 510.0,75.1 511.9,75.1 514.0,75.1 516.0,75.1 518.0,75.1 520.0,75.1 522.0,75.1 524.0,75.1 526.0,75.1 528.0,75.1 530.0,75.1 532.0,75.1 534.0,75.1 535.9,75.1 538.0,75.1 540.0,75.1 542.0,75.1 544.0,75.1 545.9,75.1 548.0,75.1 550.0,75.1 552.0,75.1 554.0,75.1 555.9,75.1 558.0,75.1 560.0,75.0 562.0,75.0 564.0,75.0 565.9,75.0 568.0,75.0 570.0,75.0 572.0,75.0 574.0,75.0 575.9,75.0 578.0,75.0 579.9,75.0 582.0,75.0 584.0,75.0 585.9,75.0 588.0,75.0 589.9,75.0 592.0,75.0 594.0,75.0 595.9,75.0 598.0,75.0 599.9,75.0 602.0,75.0 604.0,75.0 605.9,75.0 608.0,74.9 609.9,74.9 612.0,74.9 614.0,74.9 615.9,74.9 618.0,74.9 619.9,74.9 622.0,74.9 623.9,74.9 625.9,74.9 628.0,74.9 629.9,74.9 632.0,74.9 633.9,74.9 636.0,74.9 638.0,74.9 639.9,74.9 642.0,74.9 643.9,74.9 646.0,74.9 648.0,74.8 649.9,74.8 652.0,74.8 653.9,74.8 656.0,74.8 658.0,74.8 659.9,74.8 662.0,74.8 663.9,74.8 666.0,74.8 667.9,74.8 669.9,74.8 672.0,74.8 673.9,74.8 676.0,74.8 677.9,74.8 679.9,74.8 682.0,74.8 683.9,74.7 686.0,74.7 687.9,74.7 689.9,74.7 692.0,74.7 693.9,74.7 696.0,74.7 697.9,74.7 699.9,74.7 702.0,74.7 703.9,74.7 706.0,74.7 707.9,74.7 709.9,74.7 711.9,74.7 713.9,74.7 716.0,74.6 717.9,74.6 719.9,74.6 721.9,74.6 723.9,74.6 726.0,74.6 727.9,74.6 730.0,74.6 731.9,74.6 733.9,74.6 736.0,74.6 737.9,74.6 740.0,74.6 741.9,74.6 743.9,74.5 746.0,74.5 747.9,74.5 750.0,74.5 751.9,74.5 753.9,74.5 755.9,74.5 757.9,74.5 760.0,74.5 761.9,74.5 763.9,74.5 765.9,74.5 767.9,74.4 770.0,74.4 771.9,74.4 773.9,74.4 775.9,74.4 777.9,74.4 780.0,74.4 781.9,74.4 783.9,74.4 785.9,74.4 787.9,74.4 790.0,74.4 791.9,74.3 793.9,74.3 795.9,74.3 797.9,74.3 799.9,74.3 801.9,74.3 803.9,74.3 805.9,74.3 807.9,74.3 809.9,74.3 811.9,74.3 813.9,74.2 815.9,74.2 817.9,74.2 819.9,74.2 821.9,74.2 823.9,74.2 825.9,74.2 827.9,74.2 829.9,74.2 831.9,74.2 834.0,74.1 835.9,74.1 837.9,74.1 839.9,74.1 841.9,74.1 843.9,74.1 845.9,74.1 847.9,74.1 849.9,74.1 851.9,74.1 853.9,74.1 855.9,74.1 857.9,74.1 859.9,74.1 861.9,74.1 863.9,74.1 865.9,74.1 867.9,74.1 869.9,74.1 871.9,74.1 873.9,74.1 875.9,74.1 877.9,74.1 879.9,74.1 881.9,74.1 883.9,74.1 885.9,74.1 887.8,74.1 889.9,74.1 891.9,74.2 893.9,74.2 895.9,74.2 897.8,74.2 899.9,74.2 901.9,74.3 903.9,74.3 905.9,74.3 907.8,74.3 909.9,74.4 911.9,74.4 913.9,74.4 915.9,74.5 917.8,74.5 919.9,74.5 921.9,74.6 923.9,74.6 925.9,74.7 927.8,74.7 929.9,74.8 931.9,74.8 933.9,74.9 935.9,74.9 937.8,75.0 939.9,75.1 941.9,75.1 943.9,75.2 945.9,75.3 947.8,75.3 949.9,75.4 951.8,75.5 953.9,75.6 955.9,75.6 957.8,75.7 959.9,75.8 961.8,75.9 963.8,76.0 965.9,76.1 967.8,76.2 969.9,76.3 971.8,76.4 973.8,76.6 975.9,76.7 977.8,76.8 979.8,77.0 981.8,77.1 983.8,77.3 985.7,77.4 987.8,77.6 989.8,77.7 991.7,77.9 993.8,78.1 995.8,78.3 997.7,78.5 999.8,78.7 1001.7,78.9 1003.7,79.1 1005.7,79.3 1007.7,79.6 1009.7,79.8 1011.6,80.1 1013.6,80.3 1015.7,80.6 1017.6,80.9 1019.6,81.2 1021.5,81.5 1023.5,81.8 1025.5,82.1 1027.4,82.4 1029.4,82.8 1031.4,83.2 1033.3,83.6 1035.3,84.0 1037.2,84.4 1039.2,84.8 1041.2,85.3 1043.1,85.7 1045.1,86.2 1047.0,86.7 1048.9,87.2 1050.9,87.8 1052.7,88.3 1054.7,88.9 1056.6,89.5 1058.5,90.1 1060.4,90.8 1062.3,91.5 1064.1,92.1 1066.0,92.9 1067.8,93.6 1069.7,94.4 1071.6,95.2 1073.3,96.1 1075.2,96.9 1076.9,97.8 1078.7,98.8 1080.4,99.7 1082.2,100.7 1083.9,101.8 1085.6,102.8 1087.3,103.9 1088.9,104.9 1090.6,106.1 1092.3,107.2 1093.9,108.4 1095.5,109.6 1097.0,110.8 1098.6,112.0 1100.2,113.3 1101.7,114.6 1103.2,115.9 1104.7,117.3 1106.2,118.6 1107.6,119.9 1109.1,121.4 1110.5,122.7 1111.9,124.2 1113.3,125.6 1114.6,127.0 1116.0,128.5 1117.4,130.1 1118.7,131.5 1120.0,133.1 1121.3,134.5 1122.6,136.1 1123.8,137.6 1125.0,139.2 1126.3,140.8 1127.5,142.4 1128.7,144.0 1129.9,145.6 1131.1,147.2 1132.2,148.8 1133.4,150.5 1134.5,152.1 1135.7,153.8 1136.8,155.4 1137.9,157.1 1139.0,158.8 1140.1,160.4 1141.2,162.1 1142.2,163.8 1143.3,165.5 1144.3,167.2 1145.3,168.9 1146.4,170.7 1147.3,172.4 1148.3,174.1 1149.3,175.8 1150.3,177.6 1151.2,179.4 1152.1,181.1 1153.1,182.9 1153.9,184.7 1154.9,186.5 1155.8,188.3 1156.6,190.1 1157.5,191.9 1158.3,193.8 1159.1,195.5 1159.9,197.4 1160.7,199.3 1161.5,201.1 1162.2,202.9 1163.0,204.7 1163.7,206.6 1164.4,208.5 1165.1,210.3 1165.8,212.3 1166.5,214.2 1167.2,216.0 1167.8,217.9 1168.4,219.8 1169.1,221.7 1169.7,223.6 1170.3,225.5 1171.0,227.4 1171.6,229.3 1172.2,231.2 1172.7,233.1 1173.3,235.0 1173.9,237.0 1174.5,238.8 1175.1,240.8 1175.6,242.7 1176.2,244.6 1176.8,246.5 1177.3,248.4 1177.9,250.4 1178.4,252.3 1179.0,254.2 1179.5,256.1 1180.1,258.1 1180.6,260.0 1181.2,261.9 1181.7,263.9 1182.2,265.7 1182.8,267.7 1183.3,269.6 1183.9,271.5 1184.4,273.5 1184.9,275.4 1185.4,277.3 1185.9,279.2 1186.5,281.2 1187.0,283.2 1187.5,285.0 1188.0,287.0 1188.5,288.9 1189.0,290.9 1189.5,292.7 1190.0,294.7 1190.6,296.7 1191.0,298.6 1191.5,300.5 1192.0,302.4 1192.5,304.4 1193.0,306.4 1193.5,308.3 1194.0,310.2 1194.5,312.1 1195.0,314.1 1195.5,316.1 1195.9,318.0 1196.4,319.9 1196.9,321.8 1197.4,323.8 1197.9,325.8 1198.3,327.7 1198.8,329.6 1199.3,331.5 1199.7,333.5 1200.2,335.5 1200.7,337.4 1201.1,339.4 1201.6,341.3 1202.0,343.2 1202.5,345.2 1203.0,347.1 1203.4,349.1 1203.9,351.0 1204.3,353.0 1204.8,355.0 1205.2,356.9 1205.7,358.8 1206.1,360.7 1206.6,362.7 1207.0,364.6 1207.5,366.6 1207.9,368.6 1208.4,370.5 1208.8,372.5 1209.2,374.4 1209.7,376.4 1210.1,378.3 1210.6,380.2 1211.0,382.2 1211.4,384.1 1211.9,386.1 1212.3,388.1 1212.7,390.0 1213.2,392.0 1213.6,393.9 1214.0,395.9 1214.5,397.9 1214.9,399.8 1215.3,401.8 1215.8,403.7 1216.2,405.6 1216.6,407.6 1217.0,409.5 1217.5,411.5 1217.9,413.4 1218.3,415.4 1218.7,417.3 1219.2,419.3 1219.6,421.3 1220.0,423.2 1220.5,425.2 1220.9,427.1 1221.3,429.1 1221.7,431.1 1222.1,433.0 1222.6,435.0 1223.0,436.9 1223.4,438.9 1223.8,440.8 1224.3,442.7 1224.7,444.7 1225.1,446.6 1225.5,448.6 1226.0,450.6 1226.4,452.5 1226.8,454.5 1227.2,456.4 1227.6,458.4 1228.1,460.4 1228.5,462.3 1228.9,464.3 1229.3,466.2 1229.8,468.2 1230.2,470.1 1230.6,472.1 1231.0,474.1 1231.5,476.0 1231.9,478.0 1232.3,479.8 1232.7,481.8 1233.2,483.8 1233.6,485.7 1234.0,487.7 1234.4,489.6 1234.9,491.6 1235.3,493.6 1235.7,495.5 1236.2,497.5 1236.6,499.4 1237.0,501.4 1237.5,503.4 1237.9,505.3 1238.3,507.2 1238.8,509.1 1239.2,511.1 1239.6,513.1 1240.1,515.0 1240.5,517.0 1240.9,518.9 1241.4,520.9 1241.8,522.9 1242.2,524.8 1242.7,526.8 1243.1,528.7 1243.5,530.7 1244.0,532.6 1244.4,534.5 1244.8,536.5 1245.3,538.4 1245.7,540.4 1246.2,542.4 1246.6,544.3 1247.0,546.3 1247.4,548.2 1247.9,550.2 1248.3,552.2 1248.7,554.1 1249.2,556.1 1249.6,557.9 1250.0,559.9 1250.5,561.9 1250.9,563.8 1251.3,565.8 1251.7,567.7 1252.2,569.7 1252.6,571.6 1253.0,573.6 1253.5,575.6 1253.9,577.5 1254.3,579.5 1254.8,581.4 1255.2,583.4 1255.6,585.4 1256.1,587.3 1256.5,589.2 1256.9,591.1 1257.4,593.1 1257.8,595.1 1258.2,597.0 1258.7,599.0 1259.1,600.9 1259.6,602.9 1260.0,604.8 1260.5,606.8 1260.9,608.8 1261.4,610.6 1261.8,612.6 1262.3,614.5 1262.7,616.5 1263.2,618.5 1263.6,620.4 1264.1,622.4 1264.6,624.3 1265.1,626.2 1265.5,628.2 1266.0,630.1 1266.5,632.1 1267.0,634.0 1267.6,635.9 1268.1,637.9 1268.7,639.7 1269.2,641.7 1269.9,643.6 1270.5,645.5 1271.1,647.4 1271.8,649.3 1272.5,651.1 1273.2,653.0 1273.9,654.8 1274.7,656.7 1275.5,658.6 1276.3,660.3 1277.1,662.2 1278.0,664.0 1278.9,665.8 1279.8,667.6 1280.7,669.3 1281.6,671.1 1282.5,672.8 1283.5,674.6 1284.5,676.4 1285.5,678.1 1286.5,679.9 1287.5,681.5 1288.5,683.3 1289.6,685.0 1290.6,686.7 1291.7,688.4 1292.7,690.1 1293.8,691.8 1294.9,693.5 1295.9,695.1 1297.0,696.8 1298.1,698.5 1299.2,700.2 1300.3,701.9 1301.3,703.6 1302.4,705.3 1303.4,706.9 1304.5,708.6 1305.6,710.4 1306.6,712.0 1307.7,713.7 1308.7,715.4 1309.8,717.1 1310.9,718.8 1312.0,720.5 1313.1,722.2 1314.1,723.8 1315.2,725.5 1316.3,727.2 1317.4,728.9 1318.5,730.6 1319.6,732.3 1320.7,733.9 1321.9,735.6 1323.0,737.1 1324.1,738.8 1325.3,740.5 1326.4,742.1 1327.6,743.7 1328.8,745.3 1330.0,746.9 1331.2,748.5 1332.4,750.0 1333.7,751.6 1335.0,753.2 1336.2,754.7 1337.5,756.3 1338.9,757.8 1340.2,759.2 1341.6,760.7 1342.9,762.1 1344.3,763.6 1345.8,765.0 1347.2,766.3 1348.7,767.7 1350.2,769.0 1351.8,770.3 1353.3,771.5 1354.9,772.7 1356.5,773.9 1358.2,775.1 1359.8,776.2 1361.5,777.3 1363.2,778.3 1364.9,779.3 1366.7,780.3 1368.4,781.3 1370.2,782.2 1372.0,783.1 1373.8,784.0 1375.6,784.8 1377.4,785.5 1379.3,786.3 1381.2,787.1 1383.0,787.8 1384.9,788.5 1386.8,789.1 1388.7,789.7 1390.6,790.3 1392.5,790.9 1394.4,791.5 1396.4,792.1 1398.3,792.6 1400.2,793.1 1402.2,793.6 1404.0,794.1 1406.0,794.6 1407.9,795.1 1409.9,795.6 1411.9,796.1 1413.8,796.5 1415.8,797.0 1417.7,797.4 1419.7,797.9 1421.6,798.3 1423.6,798.8 1425.5,799.3 1427.3,799.7 1429.3,800.2 1431.2,800.7 1433.2,801.2 1435.1,801.7 1437.1,802.2 1439.1,802.7 1441.0,803.2 1442.9,803.7 1444.8,804.2 1446.8,804.7 1448.7,805.1 1450.7,805.6 1452.6,806.1 1454.5,806.6 1456.4,807.1 1458.4,807.6 1460.4,808.1 1462.3,808.5 1464.3,809.0 1466.2,809.4 1468.1,809.9 1470.1,810.4 1472.0,810.8 1474.0,811.2 1475.9,811.6 1477.9,812.0 1479.9,812.4 1481.8,812.8 1483.8,813.2 1485.8,813.6 1487.7,813.9 1489.7,814.3 1491.7,814.6 1493.6,814.9 1495.6,815.3 1497.6,815.6 1499.5,815.9 1501.5,816.2 1503.5,816.5 1505.5,816.8 1507.5,817.0 1509.4,817.3 1511.4,817.6 1513.4,817.8 1515.4,818.1 1517.4,818.3 1519.4,818.5 1521.3,818.7 1523.4,819.0 1525.3,819.2 1527.3,819.4 1529.3,819.6 1531.3,819.8 1533.3,819.9 1535.3,820.1 1537.3,820.3 1539.3,820.5 1541.2,820.6 1543.3,820.8 1545.3,820.9 1547.2,821.1 1549.3,821.2 1551.2,821.4 1553.2,821.5 1555.3,821.6 1557.2,821.7 1559.3,821.9 1561.2,822.0 1563.2,822.1 1565.2,822.2 1567.2,822.3 1569.2,822.4 1571.2,822.5 1573.2,822.6 1575.2,822.7 1577.2,822.8 1579.2,822.9 1581.2,823.0 1583.1,823.1 1585.2,823.1 1587.2,823.2 1589.2,823.3 1591.2,823.4 1593.1,823.5 1595.2,823.5 1597.1,823.6 1599.2,823.7 1601.2,823.8 1603.2,823.8 1605.2,823.9 1607.1,824.0 1609.2,824.0 1611.1,824.1 1613.2,824.2 1615.2,824.2 1617.1,824.3 1619.2,824.4 1621.1,824.4 1623.2,824.5 1625.2,824.6 1627.1,824.6 1629.2,824.7 1631.1,824.8 1633.1,824.8 1635.2,824.9 1637.1,825.0 1639.2,825.0 1641.1,825.1 1643.1,825.2 1645.2,825.2 1647.1,825.3 1649.1,825.4 1651.1,825.4 1653.1,825.5 1655.2,825.5 1657.1,825.6 1659.1,825.7 1661.1,825.7 1663.1,825.8 1665.1,825.8 1667.1,825.9 1669.1,826.0 1671.2,826.0 1673.1,826.1 1675.1,826.1 1677.1,826.2 1679.1,826.3 1681.1,826.3 1683.1,826.4 1685.1,826.4 1687.1,826.5 1689.1,826.5 1691.1,826.6 1693.1,826.7 1695.1,826.7 1697.1,826.8 1699.1,826.8 1701.0,826.9 1703.1,826.9 1705.1,827.0 1707.1,827.0 1709.1,827.1 1711.0,827.1 1713.1,827.2 1715.1,827.2 1717.1,827.3 1719.1,827.3 1721.1,827.4 1723.1,827.4 1725.0,827.5 1727.1,827.5 1729.0,827.6 1731.1,827.6 1733.0,827.7" fill="none" stroke="#800080" stroke-width="5.4" stroke-linejoin="round" stroke-linecap="round"/>
<path d="M272.0,75.3 274.1,75.2 276.0,75.2 278.0,75.2 280.1,75.1 282.1,75.1 284.0,75.1 286.1,75.0 288.1,75.0 290.0,75.0 292.1,75.0 294.1,74.9 296.0,74.9 298.0,74.9 300.1,74.8 302.0,74.8 304.0,74.8 306.1,74.8 308.0,74.7 310.0,74.7 312.1,74.7 314.1,74.6 316.0,74.6 318.0,74.6 320.1,74.6 322.0,74.5 324.0,74.5 326.1,74.5 328.0,74.4 330.0,74.4 332.0,74.4 334.0,74.4 336.0,74.3 338.0,74.3 340.0,74.3 342.0,74.3 344.0,74.2 346.1,74.2 348.0,74.2 350.0,74.2 352.0,74.1 354.0,74.1 356.0,74.1 358.0,74.1 360.0,74.1 362.0,74.0 364.0,74.0 366.0,74.0 368.0,74.0 370.0,73.9 372.0,73.9 374.0,73.9 376.0,73.9 378.0,73.9 380.0,73.8 382.0,73.8 384.0,73.8 385.9,73.8 388.0,73.8 390.0,73.7 391.9,73.7 394.0,73.7 396.0,73.7 398.0,73.7 400.0,73.6 402.0,73.6 404.0,73.6 405.9,73.6 408.0,73.6 410.0,73.5 411.9,73.5 414.0,73.5 416.0,73.5 417.9,73.5 420.0,73.5 422.0,73.4 424.0,73.4 425.9,73.4 428.0,73.4 430.0,73.4 431.9,73.4 434.0,73.3 436.0,73.3 437.9,73.3 439.9,73.3 442.0,73.3 444.0,73.3 445.9,73.3 448.0,73.2 450.0,73.2 451.9,73.2 454.0,73.2 456.0,73.2 457.9,73.2 459.9,73.2 462.0,73.2 463.9,73.1 465.9,73.1 468.0,73.1 470.0,73.1 471.9,73.1 473.9,73.1 476.0,73.1 477.9,73.1 479.9,73.1 482.0,73.0 483.9,73.0 485.9,73.0 488.0,73.0 489.9,73.0 491.9,73.0 493.9,73.0 496.0,73.0 497.9,73.0 499.9,73.0 502.0,73.0 503.9,72.9 505.9,72.9 507.9,72.9 509.9,72.9 511.9,72.9 513.9,72.9 516.0,72.9 517.9,72.9 519.9,72.9 522.0,72.9 523.9,72.9 525.9,72.9 527.9,72.9 529.9,72.9 531.9,72.9 533.9,72.8 535.9,72.8 537.9,72.8 539.9,72.8 542.0,72.8 543.9,72.8 545.9,72.8 547.9,72.8 549.9,72.8 551.9,72.8 553.9,72.8 555.9,72.8 557.9,72.8 559.9,72.8 561.9,72.8 563.9,72.8 565.9,72.8 567.9,72.8 569.9,72.8 571.9,72.8 573.9,72.8 575.9,72.8 577.9,72.8 579.9,72.8 581.8,72.8 583.9,72.8 585.9,72.8 587.8,72.8 589.9,72.8 591.9,72.8 593.9,72.8 595.9,72.8 597.9,72.8 599.9,72.8 601.8,72.8 603.9,72.8 605.9,72.8 607.8,72.8 609.9,72.8 611.9,72.8 613.8,72.8 615.9,72.8 617.9,72.8 619.8,72.8 621.8,72.8 623.9,72.8 625.9,72.8 627.8,72.8 629.9,72.8 631.9,72.8 633.8,72.8 635.9,72.8 637.9,72.8 639.8,72.8 641.8,72.8 643.9,72.8 645.8,72.8 647.8,72.8 649.9,72.8 651.9,72.8 653.8,72.8 655.9,72.8 657.9,72.8 659.8,72.8 661.8,72.8 663.9,72.8 665.8,72.8 667.8,72.8 669.9,72.8 671.8,72.8 673.8,72.8 675.9,72.8 677.9,72.8 679.8,72.8 681.8,72.8 683.9,72.8 685.8,72.8 687.8,72.9 689.9,72.9 691.8,72.9 693.8,72.9 695.8,72.9 697.8,72.9 699.8,72.9 701.8,72.9 703.9,72.9 705.8,72.9 707.8,72.9 709.9,72.9 711.8,72.9 713.8,72.9 715.8,72.9 717.8,72.9 719.8,72.9 721.8,72.9 723.8,72.9 725.8,72.9 727.8,72.9 729.9,72.9 731.8,72.9 733.8,72.9 735.8,72.9 737.8,72.9 739.8,72.9 741.8,72.9 743.8,72.9 745.8,72.9 747.8,72.9 749.8,72.9 751.8,72.9 753.8,72.9 755.8,72.9 757.8,72.9 759.8,72.9 761.8,72.9 763.8,72.9 765.8,72.9 767.8,72.9 769.7,72.8 771.8,72.8 773.8,72.8 775.8,72.8 777.8,72.8 779.8,72.8 781.8,72.8 783.7,72.8 785.8,72.8 787.8,72.8 789.7,72.8 791.8,72.8 793.8,72.8 795.8,72.8 797.7,72.8 799.8,72.8 801.8,72.8 803.7,72.8 805.8,72.8 807.8,72.8 809.7,72.8 811.7,72.7 813.8,72.7 815.8,72.7 817.7,72.7 819.8,72.7 821.8,72.7 823.7,72.7 825.7,72.7 827.8,72.7 829.7,72.7 831.7,72.7 833.8,72.6 835.8,72.6 837.7,72.6 839.7,72.6 841.8,72.6 843.7,72.6 845.7,72.6 847.8,72.6 849.8,72.6 851.7,72.6 853.8,72.6 855.8,72.6 857.7,72.6 859.7,72.6 861.8,72.6 863.7,72.6 865.7,72.6 867.8,72.7 869.7,72.7 871.7,72.7 873.7,72.7 875.8,72.7 877.7,72.8 879.7,72.8 881.8,72.8 883.7,72.9 885.7,72.9 887.8,73.0 889.7,73.0 891.7,73.1 893.8,73.1 895.7,73.2 897.7,73.3 899.8,73.4 901.7,73.4 903.7,73.5 905.7,73.6 907.7,73.7 909.7,73.8 911.7,73.9 913.7,74.0 915.7,74.1 917.6,74.3 919.7,74.4 921.7,74.5 923.6,74.7 925.7,74.8 927.6,75.0 929.6,75.1 931.7,75.3 933.6,75.5 935.6,75.7 937.6,75.9 939.6,76.1 941.5,76.3 943.6,76.5 945.6,76.7 947.5,76.9 949.6,77.2 951.5,77.4 953.5,77.7 955.4,77.9 957.5,78.2 959.4,78.5 961.4,78.8 963.3,79.1 965.4,79.4 967.3,79.7 969.3,80.0 971.3,80.4 973.3,80.7 975.2,81.1 977.1,81.4 979.2,81.8 981.1,82.2 983.1,82.6 985.0,83.0 987.0,83.4 988.9,83.8 990.9,84.3 992.8,84.7 994.8,85.2 996.7,85.6 998.6,86.1 1000.6,86.6 1002.5,87.1 1004.5,87.6 1006.4,88.1 1008.3,88.7 1010.2,89.2 1012.1,89.7 1014.1,90.3 1016.0,90.9 1017.9,91.5 1019.8,92.1 1021.7,92.7 1023.7,93.3 1025.5,94.0 1027.4,94.6 1029.3,95.3 1031.2,96.0 1033.0,96.7 1034.9,97.4 1036.7,98.1 1038.6,98.9 1040.4,99.7 1042.2,100.5 1044.1,101.3 1045.9,102.1 1047.8,103.0 1049.5,103.8 1051.3,104.7 1053.1,105.6 1054.9,106.5 1056.6,107.5 1058.4,108.5 1060.1,109.4 1061.8,110.4 1063.6,111.5 1065.3,112.5 1067.0,113.6 1068.6,114.6 1070.3,115.7 1072.0,116.8 1073.7,117.9 1075.3,119.0 1076.9,120.2 1078.7,121.3 1080.3,122.5 1081.9,123.6 1083.6,124.8 1085.2,125.9 1086.8,127.1 1088.4,128.3 1090.0,129.5 1091.6,130.8 1093.1,132.0 1094.7,133.3 1096.1,134.6 1097.6,136.0 1099.1,137.3 1100.5,138.7 1101.9,140.1 1103.3,141.6 1104.6,143.0 1106.0,144.5 1107.3,146.0 1108.6,147.6 1109.8,149.1 1111.1,150.7 1112.3,152.2 1113.5,153.8 1114.7,155.5 1115.9,157.0 1117.1,158.6 1118.3,160.3 1119.4,162.0 1120.5,163.6 1121.7,165.2 1122.8,166.9 1123.9,168.6 1125.0,170.2 1126.1,171.9 1127.2,173.5 1128.3,175.2 1129.4,176.8 1130.6,178.6 1131.7,180.2 1132.7,181.9 1133.8,183.5 1134.9,185.3 1136.0,186.9 1137.0,188.6 1138.1,190.4 1139.1,192.1 1140.1,193.7 1141.1,195.5 1142.1,197.2 1143.0,199.0 1144.0,200.8 1144.9,202.5 1145.8,204.3 1146.6,206.1 1147.5,208.0 1148.3,209.7 1149.1,211.6 1149.8,213.4 1150.6,215.4 1151.2,217.2 1151.9,219.0 1152.5,221.0 1153.2,222.9 1153.8,224.8 1154.4,226.7 1154.9,228.6 1155.5,230.5 1156.1,232.5 1156.6,234.4 1157.1,236.3 1157.7,238.2 1158.2,240.1 1158.8,242.1 1159.3,244.0 1159.9,245.9 1160.4,247.8 1161.0,249.8 1161.6,251.7 1162.1,253.6 1162.7,255.5 1163.3,257.5 1163.8,259.3 1164.4,261.2 1164.9,263.2 1165.4,265.1 1166.0,267.0 1166.5,268.9 1167.0,270.9 1167.5,272.8 1168.0,274.7 1168.5,276.7 1169.0,278.6 1169.5,280.6 1170.0,282.6 1170.5,284.5 1170.9,286.4 1171.4,288.4 1171.9,290.3 1172.3,292.2 1172.7,294.1 1173.2,296.2 1173.6,298.1 1174.1,300.0 1174.5,302.0 1174.9,303.9 1175.3,305.9 1175.8,307.9 1176.2,309.8 1176.6,311.7 1177.0,313.8 1177.4,315.7 1177.8,317.6 1178.2,319.6 1178.6,321.6 1179.0,323.5 1179.4,325.4 1179.8,327.4 1180.2,329.4 1180.6,331.3 1181.0,333.3 1181.4,335.3 1181.8,337.2 1182.2,339.2 1182.6,341.2 1183.0,343.1 1183.4,345.0 1183.8,347.0 1184.2,349.0 1184.6,350.9 1185.0,352.9 1185.4,354.9 1185.8,356.8 1186.2,358.7 1186.6,360.8 1186.9,362.7 1187.3,364.6 1187.7,366.7 1188.1,368.6 1188.5,370.5 1188.9,372.5 1189.3,374.5 1189.6,376.4 1190.0,378.4 1190.4,380.4 1190.8,382.3 1191.1,384.3 1191.5,386.3 1191.9,388.2 1192.2,390.2 1192.6,392.1 1193.0,394.1 1193.3,396.1 1193.7,398.0 1194.1,400.0 1194.4,402.0 1194.8,403.9 1195.1,405.9 1195.5,407.9 1195.8,409.8 1196.1,411.8 1196.5,413.8 1196.8,415.8 1197.2,417.7 1197.5,419.7 1197.9,421.7 1198.2,423.6 1198.5,425.6 1198.9,427.6 1199.2,429.5 1199.5,431.5 1199.9,433.5 1200.2,435.5 1200.5,437.4 1200.8,439.4 1201.2,441.4 1201.5,443.3 1201.8,445.3 1202.2,447.3 1202.5,449.3 1202.8,451.2 1203.1,453.2 1203.5,455.2 1203.8,457.1 1204.1,459.2 1204.4,461.1 1204.8,463.1 1205.1,465.0 1205.4,467.0 1205.7,469.0 1206.1,470.9 1206.4,473.0 1206.7,474.9 1207.1,476.8 1207.4,478.9 1207.7,480.8 1208.1,482.8 1208.4,484.7 1208.7,486.7 1209.1,488.7 1209.4,490.6 1209.8,492.7 1210.1,494.6 1210.5,496.5 1210.8,498.6 1211.2,500.5 1211.5,502.5 1211.9,504.4 1212.2,506.4 1212.6,508.4 1212.9,510.3 1213.3,512.3 1213.7,514.3 1214.0,516.2 1214.4,518.2 1214.8,520.2 1215.1,522.1 1215.5,524.1 1215.9,526.1 1216.3,528.0 1216.7,529.9 1217.1,532.0 1217.5,533.9 1217.8,535.8 1218.2,537.8 1218.6,539.8 1219.0,541.7 1219.4,543.7 1219.8,545.7 1220.2,547.6 1220.6,549.6 1221.0,551.6 1221.4,553.5 1221.8,555.5 1222.1,557.4 1222.5,559.4 1222.9,561.3 1223.3,563.3 1223.7,565.3 1224.0,567.2 1224.4,569.2 1224.8,571.1 1225.1,573.2 1225.5,575.1 1225.8,577.0 1226.2,579.1 1226.5,581.0 1226.8,583.0 1227.2,585.0 1227.5,586.9 1227.8,588.9 1228.1,590.9 1228.4,592.9 1228.7,594.8 1229.0,596.8 1229.3,598.8 1229.6,600.8 1229.8,602.7 1230.1,604.8 1230.4,606.7 1230.6,608.7 1230.9,610.7 1231.2,612.7 1231.5,614.6 1231.7,616.6 1232.0,618.6 1232.3,620.6 1232.6,622.5 1232.9,624.6 1233.2,626.5 1233.5,628.5 1233.8,630.5 1234.1,632.4 1234.4,634.4 1234.8,636.4 1235.1,638.3 1235.5,640.3 1235.8,642.2 1236.2,644.2 1236.6,646.2 1237.0,648.1 1237.5,650.1 1237.9,652.0 1238.4,654.0 1238.9,655.9 1239.4,657.9 1239.9,659.8 1240.4,661.7 1240.9,663.6 1241.5,665.6 1242.1,667.5 1242.7,669.4 1243.3,671.2 1244.0,673.2 1244.7,675.0 1245.4,676.9 1246.1,678.7 1246.8,680.7 1247.6,682.5 1248.3,684.3 1249.2,686.2 1250.0,688.0 1250.8,689.8 1251.7,691.6 1252.6,693.4 1253.5,695.1 1254.4,697.0 1255.4,698.7 1256.4,700.5 1257.4,702.2 1258.4,703.8 1259.5,705.6 1260.5,707.2 1261.7,708.9 1262.8,710.6 1263.9,712.2 1265.0,713.9 1266.2,715.5 1267.3,717.1 1268.5,718.8 1269.7,720.4 1270.8,722.0 1272.0,723.6 1273.2,725.2 1274.3,726.8 1275.6,728.5 1276.7,730.1 1277.9,731.7 1279.0,733.3 1280.2,735.0 1281.3,736.6 1282.4,738.3 1283.5,739.9 1284.7,741.6 1285.7,743.3 1286.8,745.0 1287.8,746.7 1288.8,748.4 1289.9,750.1 1290.9,751.8 1291.9,753.5 1293.0,755.2 1294.0,757.0 1295.0,758.7 1296.0,760.4 1297.0,762.1 1298.1,763.8 1299.1,765.6 1300.2,767.3 1301.2,769.0 1302.3,770.6 1303.4,772.3 1304.5,774.0 1305.6,775.7 1306.7,777.3 1307.9,778.9 1309.1,780.5 1310.3,782.1 1311.6,783.7 1312.8,785.2 1314.1,786.8 1315.4,788.2 1316.7,789.7 1318.2,791.2 1319.5,792.6 1321.0,794.0 1322.4,795.3 1323.9,796.7 1325.5,798.0 1327.0,799.3 1328.6,800.6 1330.1,801.8 1331.7,803.0 1333.3,804.1 1335.0,805.3 1336.6,806.4 1338.2,807.5 1340.0,808.6 1341.7,809.6 1343.4,810.6 1345.1,811.6 1346.9,812.6 1348.7,813.5 1350.4,814.4 1352.3,815.3 1354.1,816.1 1355.9,816.9 1357.7,817.6 1359.7,818.4 1361.5,819.1 1363.4,819.7 1365.2,820.4 1367.2,821.0 1369.1,821.6 1371.0,822.2 1372.9,822.7 1374.9,823.3 1376.8,823.8 1378.7,824.2 1380.6,824.7 1382.6,825.2 1384.6,825.6 1386.5,826.0 1388.5,826.4 1390.5,826.8 1392.4,827.1 1394.3,827.4 1396.4,827.8 1398.3,828.1 1400.3,828.4 1402.3,828.7 1404.2,829.0 1406.2,829.3 1408.2,829.6 1410.2,829.8 1412.1,830.1 1414.2,830.3 1416.1,830.6 1418.1,830.8 1420.1,831.1 1422.1,831.3 1424.0,831.6 1426.1,831.8 1428.0,832.1 1430.0,832.3 1432.0,832.6 1434.0,832.8 1435.9,833.1 1438.0,833.3 1440.0,833.5 1441.9,833.8 1444.0,834.0 1445.9,834.3 1447.9,834.5 1449.8,834.7 1451.9,835.0 1453.8,835.2 1455.8,835.4 1457.8,835.7 1459.8,835.9 1461.8,836.1 1463.7,836.4 1465.8,836.6 1467.7,836.9 1469.7,837.1 1471.7,837.3 1473.7,837.6 1475.7,837.8 1477.7,838.1 1479.7,838.3 1481.6,838.5 1483.6,838.8 1485.6,839.0 1487.6,839.3 1489.5,839.5 1491.6,839.8 1493.5,840.0 1495.5,840.2 1497.5,840.5 1499.5,840.7 1501.5,840.9 1503.4,841.2 1505.5,841.4 1507.4,841.6 1509.4,841.9 1511.4,842.1 1513.4,842.3 1515.4,842.5 1517.3,842.7 1519.4,842.9 1521.3,843.1 1523.3,843.3 1525.3,843.5 1527.3,843.7 1529.3,843.9 1531.3,844.1 1533.3,844.3 1535.2,844.4 1537.3,844.6 1539.3,844.7 1541.2,844.9 1543.2,845.0 1545.3,845.1 1547.2,845.3 1549.2,845.4 1551.3,845.5 1553.2,845.6 1555.2,845.7 1557.3,845.8 1559.2,845.9 1561.2,846.0 1563.3,846.1 1565.2,846.2 1567.2,846.2 1569.2,846.3 1571.2,846.4 1573.2,846.4 1575.2,846.5 1577.2,846.6 1579.2,846.6 1581.2,846.7 1583.1,846.7 1585.2,846.8 1587.2,846.8 1589.1,846.9 1591.2,846.9 1593.2,847.0 1595.2,847.0 1597.1,847.1 1599.2,847.1 1601.2,847.2 1603.1,847.2 1605.2,847.3 1607.2,847.3 1609.1,847.4 1611.1,847.4 1613.2,847.5 1615.2,847.5 1617.1,847.6 1619.2,847.6 1621.2,847.7 1623.1,847.7 1625.2,847.8 1627.2,847.8 1629.1,847.9 1631.1,848.0 1633.2,848.0 1635.1,848.1 1637.1,848.1 1639.2,848.2 1641.1,848.3 1643.1,848.3 1645.1,848.4 1647.2,848.4 1649.1,848.5 1651.1,848.6 1653.2,848.6 1655.1,848.7 1657.1,848.7 1659.2,848.8 1661.1,848.9 1663.1,848.9 1665.2,849.0 1667.1,849.0 1669.1,849.1 1671.1,849.2 1673.1,849.2 1675.1,849.3 1677.1,849.3 1679.1,849.4 1681.1,849.4 1683.1,849.5 1685.1,849.6 1687.1,849.6 1689.1,849.7 1691.0,849.7 1693.1,849.8 1695.1,849.8 1697.1,849.9 1699.1,849.9 1701.1,850.0 1703.1,850.0 1705.0,850.0 1707.1,850.1 1709.1,850.1 1711.0,850.2 1713.1,850.2 1715.1,850.2 1717.0,850.3 1719.1,850.3 1721.1,850.3 1723.1,850.4 1725.0,850.4 1727.1,850.4 1729.1,850.4 1731.0,850.5 1733.0,850.5" fill="none" stroke="#0000ff" stroke-width="5.4" stroke-linejoin="round" stroke-linecap="round"/>
<path d="M272.0,75.5 274.1,75.5 276.0,75.5 278.1,75.5 280.0,75.5 282.1,75.5 284.1,75.5 286.0,75.5 288.1,75.5 290.0,75.5 292.1,75.5 294.0,75.5 296.0,75.6 298.1,75.6 300.0,75.6 302.1,75.6 304.0,75.6 306.0,75.6 308.0,75.6 310.0,75.6 312.1,75.6 314.0,75.6 316.0,75.6 318.0,75.6 320.0,75.6 322.0,75.6 324.0,75.6 326.1,75.6 328.0,75.6 330.0,75.6 332.0,75.6 334.0,75.6 336.1,75.6 338.0,75.6 340.0,75.6 342.0,75.6 344.0,75.6 346.0,75.6 348.0,75.6 350.0,75.6 352.0,75.6 354.0,75.6 356.0,75.6 358.0,75.6 359.9,75.6 362.0,75.6 364.0,75.6 366.0,75.6 368.0,75.6 369.9,75.6 372.0,75.6 374.0,75.6 376.0,75.6 378.0,75.6 380.0,75.7 382.0,75.7 383.9,75.7 386.0,75.7 388.0,75.7 390.0,75.7 392.0,75.7 393.9,75.7 396.0,75.7 397.9,75.7 400.0,75.7 402.0,75.7 403.9,75.7 406.0,75.7 407.9,75.7 410.0,75.7 412.0,75.7 413.9,75.7 416.0,75.7 417.9,75.7 420.0,75.7 421.9,75.7 423.9,75.7 426.0,75.7 427.9,75.7 430.0,75.7 431.9,75.7 434.0,75.7 435.9,75.7 437.9,75.7 440.0,75.7 441.9,75.7 444.0,75.7 445.9,75.7 447.9,75.8 450.0,75.8 451.9,75.8 454.0,75.8 455.9,75.8 457.9,75.8 459.9,75.8 461.9,75.8 464.0,75.8 465.9,75.8 467.9,75.8 469.9,75.8 471.9,75.8 473.9,75.8 475.9,75.8 477.9,75.8 479.9,75.8 481.9,75.8 483.9,75.8 485.9,75.8 488.0,75.8 489.9,75.8 491.9,75.8 493.9,75.8 495.9,75.8 497.9,75.8 499.9,75.8 501.9,75.8 503.9,75.8 505.9,75.8 507.9,75.9 509.9,75.9 511.8,75.9 513.9,75.9 515.9,75.9 517.9,75.9 519.9,75.9 521.8,75.9 523.9,75.9 525.9,75.9 527.9,75.9 529.9,75.9 531.8,75.9 533.9,75.9 535.8,75.9 537.9,75.9 539.9,75.9 541.9,75.9 543.9,75.9 545.8,75.9 547.9,75.9 549.8,75.9 551.9,75.9 553.9,75.9 555.8,75.9 557.9,75.9 559.8,75.9 561.9,75.9 563.9,76.0 565.8,76.0 567.9,76.0 569.8,76.0 571.9,76.0 573.8,76.0 575.8,76.0 577.9,76.0 579.8,76.0 581.9,76.0 583.8,76.0 585.8,76.0 587.8,76.0 589.8,76.0 591.9,76.0 593.8,76.0 595.8,76.0 597.8,76.0 599.8,76.0 601.9,76.0 603.8,76.0 605.9,76.0 607.8,76.0 609.8,76.0 611.8,76.0 613.8,76.0 615.9,76.1 617.8,76.1 619.8,76.1 621.8,76.1 623.8,76.1 625.8,76.1 627.8,76.1 629.8,76.1 631.8,76.1 633.8,76.1 635.8,76.1 637.8,76.1 639.7,76.1 641.8,76.1 643.8,76.1 645.8,76.1 647.8,76.1 649.7,76.1 651.8,76.1 653.8,76.1 655.8,76.1 657.8,76.1 659.8,76.1 661.8,76.1 663.7,76.1 665.8,76.1 667.8,76.1 669.8,76.2 671.8,76.2 673.7,76.2 675.8,76.2 677.8,76.2 679.8,76.2 681.8,76.2 683.7,76.2 685.8,76.2 687.7,76.2 689.8,76.2 691.8,76.2 693.7,76.2 695.8,76.2 697.7,76.2 699.8,76.2 701.7,76.2 703.7,76.2 705.8,76.2 707.7,76.2 709.8,76.2 711.7,76.2 713.8,76.2 715.8,76.2 717.7,76.2 719.8,76.2 721.7,76.2 723.8,76.3 725.7,76.3 727.7,76.3 729.8,76.3 731.7,76.3 733.8,76.3 735.7,76.3 737.7,76.3 739.7,76.3 741.7,76.3 743.8,76.3 745.7,76.3 747.7,76.3 749.7,76.3 751.7,76.3 753.8,76.3 755.7,76.3 757.7,76.3 759.7,76.3 761.7,76.3 763.7,76.3 765.7,76.3 767.8,76.3 769.7,76.3 771.7,76.3 773.7,76.3 775.7,76.3 777.7,76.4 779.7,76.4 781.7,76.4 783.7,76.4 785.7,76.4 787.7,76.4 789.7,76.4 791.6,76.4 793.7,76.4 795.7,76.4 797.7,76.4 799.7,76.4 801.6,76.4 803.7,76.4 805.7,76.4 807.7,76.4 809.7,76.4 811.6,76.4 813.7,76.4 815.6,76.4 817.7,76.4 819.7,76.4 821.7,76.4 823.7,76.4 825.6,76.4 827.7,76.4 829.6,76.4 831.7,76.4 833.7,76.4 835.6,76.5 837.7,76.5 839.6,76.5 841.7,76.5 843.7,76.5 845.6,76.5 847.7,76.5 849.6,76.5 851.7,76.5 853.6,76.5 855.6,76.5 857.7,76.5 859.6,76.5 861.7,76.5 863.6,76.5 865.7,76.5 867.6,76.5 869.6,76.5 871.7,76.5 873.6,76.5 875.7,76.5 877.6,76.5 879.6,76.5 881.6,76.6 883.6,76.6 885.7,76.6 887.6,76.6 889.6,76.6 891.6,76.6 893.6,76.7 895.7,76.7 897.6,76.7 899.6,76.7 901.6,76.8 903.6,76.8 905.6,76.9 907.6,76.9 909.6,76.9 911.6,77.0 913.6,77.0 915.6,77.1 917.6,77.2 919.6,77.2 921.6,77.3 923.5,77.4 925.6,77.5 927.6,77.5 929.6,77.6 931.6,77.7 933.6,77.8 935.6,77.9 937.5,78.0 939.6,78.2 941.5,78.3 943.6,78.4 945.5,78.6 947.5,78.7 949.6,78.8 951.5,79.0 953.6,79.2 955.5,79.3 957.5,79.5 959.5,79.7 961.5,79.9 963.5,80.1 965.5,80.3 967.4,80.5 969.5,80.7 971.4,80.9 973.4,81.2 975.4,81.4 977.3,81.6 979.4,81.9 981.3,82.2 983.3,82.4 985.3,82.7 987.2,83.0 989.3,83.3 991.2,83.6 993.2,83.9 995.1,84.3 997.2,84.6 999.1,84.9 1001.0,85.3 1003.0,85.7 1005.0,86.0 1007.0,86.4 1008.9,86.8 1010.9,87.2 1012.8,87.6 1014.7,88.1 1016.7,88.5 1018.6,89.0 1020.6,89.4 1022.5,89.9 1024.5,90.4 1026.4,90.9 1028.4,91.5 1030.2,92.0 1032.2,92.6 1034.1,93.1 1036.1,93.7 1037.9,94.3 1039.9,95.0 1041.7,95.6 1043.6,96.3 1045.5,97.0 1047.3,97.6 1049.2,98.4 1051.1,99.1 1052.9,99.9 1054.8,100.7 1056.6,101.4 1058.4,102.2 1060.2,103.1 1062.0,104.0 1063.8,104.8 1065.6,105.7 1067.4,106.6 1069.1,107.6 1070.9,108.6 1072.6,109.5 1074.3,110.5 1076.1,111.6 1077.8,112.6 1079.5,113.7 1081.2,114.8 1082.8,115.9 1084.5,117.0 1086.1,118.2 1087.7,119.4 1089.3,120.6 1090.8,121.8 1092.4,123.1 1093.9,124.3 1095.5,125.6 1097.0,126.9 1098.5,128.3 1099.9,129.6 1101.4,131.1 1102.8,132.4 1104.2,133.9 1105.5,135.3 1106.9,136.8 1108.2,138.3 1109.6,139.8 1110.8,141.3 1112.1,142.9 1113.3,144.4 1114.5,146.1 1115.7,147.6 1116.9,149.3 1118.0,150.9 1119.1,152.6 1120.2,154.3 1121.3,156.0 1122.3,157.7 1123.3,159.4 1124.3,161.2 1125.2,162.9 1126.1,164.7 1127.0,166.5 1127.9,168.3 1128.7,170.1 1129.6,171.9 1130.4,173.7 1131.1,175.5 1132.0,177.4 1132.7,179.2 1133.5,181.1 1134.3,183.0 1135.0,184.8 1135.8,186.7 1136.5,188.5 1137.2,190.4 1137.9,192.2 1138.7,194.1 1139.3,195.9 1140.0,197.9 1140.7,199.7 1141.3,201.6 1141.9,203.5 1142.5,205.5 1143.1,207.3 1143.7,209.3 1144.3,211.2 1144.9,213.1 1145.4,215.0 1146.0,217.0 1146.6,218.8 1147.1,220.7 1147.7,222.7 1148.2,224.6 1148.8,226.5 1149.3,228.4 1149.9,230.4 1150.4,232.3 1151.0,234.2 1151.5,236.1 1152.0,238.0 1152.6,240.0 1153.1,241.9 1153.6,243.9 1154.1,245.8 1154.6,247.7 1155.2,249.7 1155.7,251.5 1156.2,253.5 1156.7,255.4 1157.2,257.3 1157.7,259.3 1158.2,261.2 1158.7,263.2 1159.2,265.1 1159.7,267.1 1160.1,269.0 1160.6,270.9 1161.1,272.9 1161.6,274.8 1162.0,276.8 1162.5,278.7 1163.0,280.6 1163.4,282.6 1163.9,284.5 1164.3,286.5 1164.8,288.4 1165.2,290.4 1165.7,292.4 1166.1,294.3 1166.6,296.3 1167.0,298.2 1167.4,300.1 1167.9,302.1 1168.3,304.0 1168.7,305.9 1169.2,307.9 1169.6,309.9 1170.0,311.9 1170.4,313.8 1170.8,315.7 1171.3,317.7 1171.7,319.6 1172.1,321.7 1172.5,323.6 1172.9,325.5 1173.3,327.5 1173.7,329.4 1174.1,331.4 1174.5,333.4 1174.8,335.3 1175.2,337.3 1175.6,339.2 1176.0,341.3 1176.4,343.2 1176.8,345.1 1177.1,347.1 1177.5,349.0 1177.9,351.1 1178.3,353.0 1178.6,355.0 1179.0,356.9 1179.3,358.9 1179.7,360.9 1180.1,362.8 1180.4,364.8 1180.8,366.8 1181.1,368.7 1181.5,370.7 1181.8,372.6 1182.2,374.7 1182.5,376.6 1182.9,378.5 1183.2,380.5 1183.5,382.5 1183.9,384.5 1184.2,386.4 1184.6,388.5 1184.9,390.4 1185.2,392.3 1185.6,394.3 1185.9,396.3 1186.2,398.3 1186.5,400.2 1186.8,402.2 1187.2,404.2 1187.5,406.1 1187.8,408.2 1188.1,410.1 1188.5,412.1 1188.8,414.1 1189.1,416.0 1189.4,418.0 1189.7,419.9 1190.0,422.0 1190.4,423.9 1190.7,425.8 1191.0,427.9 1191.3,429.8 1191.6,431.8 1191.9,433.8 1192.2,435.8 1192.5,437.7 1192.8,439.7 1193.1,441.7 1193.4,443.6 1193.8,445.7 1194.0,447.6 1194.3,449.6 1194.7,451.6 1195.0,453.5 1195.3,455.6 1195.6,457.5 1195.9,459.4 1196.2,461.5 1196.5,463.4 1196.8,465.4 1197.1,467.4 1197.4,469.3 1197.7,471.3 1198.0,473.3 1198.3,475.3 1198.6,477.2 1198.9,479.3 1199.2,481.2 1199.5,483.1 1199.8,485.2 1200.1,487.1 1200.4,489.2 1200.7,491.1 1201.0,493.0 1201.3,495.1 1201.6,497.0 1201.9,499.0 1202.2,501.0 1202.5,502.9 1202.8,504.9 1203.1,506.9 1203.4,508.9 1203.7,510.8 1204.0,512.8 1204.3,514.8 1204.6,516.7 1204.9,518.8 1205.2,520.7 1205.5,522.6 1205.9,524.7 1206.2,526.6 1206.5,528.6 1206.8,530.6 1207.1,532.5 1207.4,534.5 1207.7,536.5 1208.0,538.5 1208.3,540.4 1208.7,542.4 1209.0,544.4 1209.3,546.3 1209.6,548.4 1209.9,550.3 1210.3,552.3 1210.6,554.3 1210.9,556.2 1211.2,558.2 1211.5,560.2 1211.9,562.2 1212.2,564.1 1212.5,566.1 1212.9,568.1 1213.2,570.0 1213.5,572.0 1213.9,574.0 1214.2,575.9 1214.5,577.9 1214.9,579.9 1215.2,581.9 1215.6,583.8 1215.9,585.7 1216.3,587.8 1216.6,589.7 1217.0,591.7 1217.3,593.7 1217.7,595.7 1218.0,597.6 1218.4,599.5 1218.7,601.6 1219.1,603.5 1219.4,605.5 1219.8,607.4 1220.2,609.3 1220.5,611.4 1220.9,613.3 1221.3,615.3 1221.6,617.2 1222.0,619.3 1222.3,621.2 1222.7,623.1 1223.0,625.1 1223.4,627.1 1223.7,629.1 1224.0,631.0 1224.4,633.1 1224.7,635.0 1225.0,636.9 1225.3,638.9 1225.6,640.9 1225.9,642.9 1226.2,644.8 1226.5,646.9 1226.8,648.8 1227.1,650.8 1227.4,652.8 1227.6,654.7 1227.9,656.8 1228.2,658.7 1228.4,660.6 1228.7,662.7 1229.0,664.6 1229.3,666.7 1229.6,668.6 1229.9,670.6 1230.1,672.6 1230.4,674.5 1230.7,676.5 1231.0,678.5 1231.4,680.4 1231.7,682.4 1232.0,684.4 1232.3,686.4 1232.6,688.4 1232.9,690.3 1233.3,692.3 1233.6,694.3 1234.0,696.3 1234.3,698.2 1234.6,700.1 1235.0,702.2 1235.3,704.1 1235.6,706.1 1236.0,708.1 1236.3,710.0 1236.7,712.0 1237.0,714.0 1237.3,715.9 1237.7,717.9 1238.0,719.8 1238.4,721.9 1238.7,723.8 1239.0,725.8 1239.4,727.8 1239.7,729.7 1240.0,731.7 1240.4,733.6 1240.7,735.7 1241.0,737.6 1241.4,739.6 1241.7,741.6 1242.0,743.5 1242.3,745.5 1242.7,747.4 1243.0,749.5 1243.3,751.4 1243.7,753.4 1244.0,755.3 1244.3,757.4 1244.6,759.3 1245.0,761.3 1245.3,763.2 1245.6,765.2 1246.0,767.2 1246.3,769.1 1246.7,771.2 1247.0,773.1 1247.4,775.0 1247.7,777.0 1248.1,779.0 1248.4,781.0 1248.8,782.9 1249.2,784.8 1249.6,786.9 1249.9,788.8 1250.3,790.7 1250.7,792.8 1251.1,794.7 1251.5,796.6 1251.9,798.5 1252.4,800.6 1252.8,802.5 1253.3,804.4 1253.8,806.4 1254.4,808.3 1254.9,810.2 1255.5,812.1 1256.1,814.0 1256.8,815.9 1257.5,817.8 1258.3,819.6 1259.1,821.5 1259.9,823.2 1260.8,825.0 1261.8,826.8 1262.8,828.5 1263.9,830.1 1265.1,831.8 1266.3,833.3 1267.7,834.9 1269.1,836.3 1270.5,837.7 1272.1,839.0 1273.6,840.1 1275.3,841.4 1276.9,842.5 1278.6,843.6 1280.2,844.7 1281.8,845.8 1283.5,847.0 1285.1,848.1 1286.7,849.3 1288.3,850.6 1289.8,851.9 1291.2,853.2 1292.7,854.6 1294.1,856.0 1295.4,857.6 1296.7,859.0 1298.1,860.6 1299.4,862.1 1300.7,863.5 1302.0,865.1 1303.3,866.5 1304.8,868.0 1306.2,869.4 1307.6,870.7 1309.2,872.0 1310.7,873.3 1312.3,874.5 1313.9,875.7 1315.5,876.9 1317.2,878.0 1318.9,879.1 1320.5,880.1 1322.3,881.2 1324.0,882.1 1325.8,883.1 1327.5,884.0 1329.4,884.9 1331.2,885.7 1333.0,886.5 1334.9,887.3 1336.7,888.1 1338.5,888.8 1340.4,889.5 1342.3,890.2 1344.2,890.9 1346.0,891.5 1348.0,892.1 1349.9,892.7 1351.7,893.3 1353.7,893.9 1355.6,894.5 1357.5,895.0 1359.5,895.5 1361.4,896.0 1363.4,896.5 1365.3,897.0 1367.3,897.5 1369.2,897.9 1371.1,898.3 1373.1,898.8 1375.0,899.2 1377.0,899.6 1378.9,900.0 1380.9,900.4 1382.8,900.8 1384.9,901.1 1386.8,901.5 1388.7,901.9 1390.7,902.2 1392.6,902.6 1394.7,902.9 1396.6,903.3 1398.6,903.6 1400.5,903.9 1402.6,904.3 1404.5,904.6 1406.4,904.9 1408.5,905.3 1410.4,905.6 1412.4,906.0 1414.3,906.3 1416.3,906.6 1418.3,907.0 1420.2,907.3 1422.3,907.7 1424.2,908.0 1426.1,908.3 1428.2,908.7 1430.1,909.0 1432.1,909.4 1434.1,909.7 1436.0,910.0 1438.0,910.4 1440.0,910.7 1441.9,911.0 1443.9,911.3 1445.9,911.7 1447.9,912.0 1449.8,912.3 1451.8,912.6 1453.8,912.9 1455.7,913.2 1457.8,913.5 1459.7,913.8 1461.6,914.1 1463.7,914.4 1465.6,914.7 1467.7,914.9 1469.6,915.2 1471.5,915.5 1473.6,915.7 1475.5,916.0 1477.6,916.2 1479.5,916.5 1481.4,916.7 1483.5,916.9 1485.4,917.2 1487.5,917.4 1489.4,917.6 1491.5,917.8 1493.4,918.0 1495.4,918.2 1497.4,918.4 1499.3,918.6 1501.4,918.8 1503.3,919.0 1505.4,919.2 1507.3,919.4 1509.3,919.6 1511.3,919.7 1513.3,919.9 1515.3,920.1 1517.3,920.2 1519.3,920.4 1521.3,920.5 1523.2,920.7 1525.3,920.8 1527.2,921.0 1529.3,921.1 1531.2,921.3 1533.3,921.4 1535.2,921.5 1537.2,921.6 1539.2,921.8 1541.2,921.9 1543.3,922.0 1545.2,922.1 1547.2,922.2 1549.2,922.3 1551.2,922.4 1553.2,922.5 1555.2,922.6 1557.2,922.7 1559.2,922.8 1561.1,922.9 1563.2,923.0 1565.2,923.1 1567.2,923.2 1569.2,923.2 1571.1,923.3 1573.2,923.4 1575.1,923.5 1577.2,923.5 1579.1,923.6 1581.1,923.7 1583.2,923.7 1585.1,923.8 1587.2,923.9 1589.1,923.9 1591.1,924.0 1593.2,924.0 1595.1,924.1 1597.2,924.1 1599.1,924.2 1601.1,924.2 1603.1,924.3 1605.1,924.3 1607.2,924.4 1609.1,924.4 1611.1,924.5 1613.1,924.5 1615.1,924.5 1617.2,924.6 1619.1,924.6 1621.1,924.7 1623.1,924.7 1625.1,924.7 1627.1,924.8 1629.1,924.8 1631.1,924.8 1633.1,924.9 1635.1,924.9 1637.0,924.9 1639.1,925.0 1641.1,925.0 1643.1,925.0 1645.1,925.0 1647.0,925.1 1649.1,925.1 1651.1,925.1 1653.1,925.2 1655.1,925.2 1657.0,925.2 1659.1,925.3 1661.1,925.3 1663.1,925.3 1665.1,925.3 1667.0,925.4 1669.1,925.4 1671.0,925.4 1673.1,925.5 1675.1,925.5 1677.0,925.5 1679.1,925.6 1681.0,925.6 1683.1,925.6 1685.0,925.7 1687.0,925.7 1689.1,925.7 1691.0,925.8 1693.1,925.8 1695.0,925.9 1697.1,925.9 1699.0,925.9 1701.0,926.0 1703.1,926.0 1705.0,926.1 1707.1,926.1 1709.0,926.2 1711.1,926.2 1713.0,926.3 1715.0,926.3 1717.0,926.4 1719.0,926.4 1721.0,926.5 1723.0,926.6 1725.0,926.6 1727.0,926.7 1729.1,926.8 1731.0,926.8 1733.0,926.9" fill="none" stroke="#ff0080" stroke-width="5.4" stroke-linejoin="round" stroke-linecap="round"/>
<path d="M272.0,75.6 274.1,75.6 276.1,75.6 278.1,75.6 280.1,75.6 282.1,75.6 284.1,75.5 286.1,75.5 288.1,75.5 290.1,75.5 292.0,75.5 294.0,75.5 296.0,75.5 298.0,75.5 300.0,75.5 302.0,75.5 304.0,75.5 306.1,75.5 308.1,75.5 310.1,75.5 312.1,75.5 314.1,75.5 316.1,75.5 318.1,75.5 320.1,75.5 322.1,75.5 324.1,75.5 326.0,75.5 328.0,75.5 330.0,75.5 332.0,75.5 334.0,75.5 336.0,75.5 338.0,75.5 340.1,75.5 342.1,75.5 344.1,75.5 346.1,75.4 348.1,75.4 350.1,75.4 352.1,75.4 354.1,75.4 356.1,75.4 358.1,75.4 360.0,75.4 362.0,75.4 364.0,75.4 366.0,75.4 368.0,75.4 370.0,75.4 372.0,75.4 374.0,75.4 376.1,75.4 378.1,75.4 380.1,75.4 382.1,75.4 384.1,75.4 386.1,75.4 388.1,75.4 390.1,75.5 392.1,75.5 394.0,75.5 396.0,75.5 398.0,75.5 400.0,75.5 402.0,75.5 404.0,75.5 406.0,75.5 408.0,75.5 410.1,75.5 412.1,75.5 414.1,75.5 416.1,75.5 418.1,75.5 420.1,75.5 422.1,75.5 424.1,75.5 426.1,75.5 428.0,75.5 430.0,75.5 432.0,75.5 434.0,75.5 436.0,75.5 438.0,75.5 440.0,75.5 442.0,75.5 444.0,75.5 446.1,75.5 448.1,75.5 450.1,75.5 452.1,75.5 454.1,75.5 456.1,75.5 458.1,75.5 460.1,75.5 462.1,75.5 464.0,75.5 466.0,75.5 468.0,75.5 470.0,75.5 472.0,75.5 474.0,75.5 476.0,75.5 478.0,75.5 480.0,75.5 482.1,75.5 484.1,75.5 486.1,75.5 488.1,75.5 490.1,75.5 492.1,75.6 494.1,75.6 496.1,75.6 498.1,75.6 500.0,75.6 502.0,75.6 504.0,75.6 506.0,75.6 508.0,75.6 510.0,75.6 512.0,75.6 514.0,75.6 516.0,75.6 518.1,75.6 520.1,75.6 522.1,75.6 524.1,75.6 526.1,75.6 528.1,75.6 530.1,75.6 532.1,75.6 534.0,75.6 536.0,75.6 538.0,75.6 540.0,75.6 542.0,75.6 544.0,75.6 546.0,75.6 548.0,75.6 550.0,75.6 552.1,75.6 554.1,75.6 556.1,75.6 558.1,75.6 560.1,75.6 562.1,75.6 564.1,75.6 566.1,75.6 568.0,75.6 570.0,75.6 572.0,75.6 574.0,75.6 576.0,75.6 578.0,75.6 580.0,75.6 582.0,75.6 584.0,75.6 586.0,75.6 588.1,75.6 590.1,75.6 592.1,75.6 594.1,75.6 596.1,75.6 598.1,75.6 600.1,75.6 602.0,75.6 604.0,75.6 606.0,75.6 608.0,75.6 610.0,75.6 612.0,75.6 614.0,75.6 616.0,75.6 618.0,75.6 620.0,75.6 622.1,75.6 624.1,75.6 626.1,75.6 628.1,75.6 630.1,75.6 632.1,75.6 634.1,75.6 636.0,75.6 638.0,75.6 640.0,75.6 642.0,75.6 644.0,75.6 646.0,75.6 648.0,75.6 650.0,75.6 652.0,75.6 654.0,75.5 656.1,75.5 658.1,75.5 660.1,75.5 662.1,75.5 664.1,75.5 666.1,75.5 668.1,75.5 670.0,75.5 672.0,75.5 674.0,75.5 676.0,75.5 678.0,75.5 680.0,75.5 682.0,75.5 684.0,75.5 686.0,75.5 688.0,75.5 690.1,75.5 692.1,75.5 694.1,75.5 696.1,75.5 698.1,75.5 700.1,75.5 702.1,75.5 704.0,75.5 706.0,75.6 708.0,75.6 710.0,75.6 712.0,75.6 714.0,75.6 716.0,75.6 718.0,75.6 720.0,75.6 722.0,75.6 724.1,75.6 726.1,75.6 728.1,75.6 730.1,75.6 732.1,75.6 734.1,75.6 736.1,75.6 738.0,75.6 740.0,75.6 742.0,75.6 744.0,75.6 746.0,75.6 748.0,75.6 750.0,75.6 752.0,75.6 754.0,75.6 756.0,75.6 758.1,75.7 760.1,75.7 762.1,75.7 764.1,75.7 766.1,75.7 768.1,75.7 770.1,75.7 772.0,75.7 774.0,75.7 776.0,75.7 778.0,75.7 780.0,75.7 782.0,75.8 784.0,75.8 786.0,75.8 788.0,75.8 790.0,75.8 792.0,75.8 794.1,75.8 796.1,75.8 798.1,75.8 800.1,75.9 802.1,75.9 804.1,75.9 806.1,75.9 808.0,75.9 810.0,75.9 812.0,75.9 814.0,75.9 816.0,76.0 818.0,76.0 820.0,76.0 822.0,76.0 824.0,76.0 826.0,76.0 828.0,76.1 830.0,76.1 832.1,76.1 834.1,76.1 836.1,76.1 838.1,76.2 840.1,76.2 842.1,76.2 844.0,76.2 846.0,76.2 848.0,76.3 850.0,76.3 852.0,76.3 854.0,76.3 856.0,76.3 858.0,76.4 860.0,76.4 862.0,76.4 864.0,76.4 866.0,76.5 868.0,76.5 870.1,76.5 872.1,76.5 874.1,76.6 876.1,76.6 878.1,76.6 880.1,76.7 882.0,76.7 884.0,76.8 886.0,76.8 888.0,76.9 890.0,76.9 892.0,77.0 894.0,77.1 896.0,77.1 898.0,77.2 900.0,77.3 902.1,77.4 904.1,77.5 906.0,77.6 908.0,77.7 910.0,77.8 912.0,77.9 914.0,78.0 916.0,78.2 918.0,78.3 920.0,78.5 921.9,78.6 923.9,78.8 926.0,79.0 928.0,79.2 930.0,79.4 932.0,79.6 933.9,79.8 935.9,80.0 937.9,80.2 939.9,80.5 941.9,80.7 943.8,81.0 945.8,81.3 947.8,81.5 949.8,81.8 951.7,82.1 953.7,82.4 955.8,82.7 957.7,83.0 959.7,83.3 961.7,83.7 963.7,84.0 965.6,84.3 967.6,84.7 969.6,85.0 971.5,85.4 973.5,85.7 975.5,86.1 977.4,86.4 979.4,86.8 981.3,87.2 983.3,87.6 985.3,87.9 987.2,88.3 989.2,88.7 991.1,89.1 993.1,89.5 995.1,89.9 997.0,90.3 999.0,90.7 1000.9,91.1 1002.9,91.6 1004.8,92.0 1006.7,92.5 1008.8,93.0 1010.7,93.5 1012.6,94.0 1014.5,94.6 1016.4,95.1 1018.3,95.7 1020.2,96.3 1022.1,97.0 1024.0,97.6 1025.9,98.3 1027.7,99.1 1029.6,99.9 1031.5,100.7 1033.3,101.5 1035.1,102.4 1036.8,103.2 1038.6,104.2 1040.3,105.1 1042.1,106.2 1043.8,107.2 1045.5,108.3 1047.1,109.4 1048.7,110.6 1050.3,111.7 1051.9,112.9 1053.6,114.2 1055.1,115.5 1056.7,116.8 1058.2,118.1 1059.7,119.4 1061.2,120.7 1062.7,122.0 1064.1,123.4 1065.6,124.8 1067.0,126.1 1068.5,127.5 1069.9,128.9 1071.3,130.3 1072.7,131.7 1074.1,133.1 1075.4,134.6 1076.9,136.1 1078.2,137.6 1079.5,139.1 1080.7,140.6 1082.0,142.2 1083.2,143.8 1084.4,145.4 1085.6,147.0 1086.8,148.7 1087.9,150.3 1089.0,151.9 1090.1,153.7 1091.1,155.4 1092.1,157.1 1093.1,158.8 1094.1,160.5 1095.1,162.3 1096.1,164.0 1097.0,165.8 1097.9,167.5 1098.8,169.3 1099.7,171.1 1100.6,173.0 1101.5,174.8 1102.3,176.6 1103.1,178.4 1103.9,180.2 1104.7,182.1 1105.5,183.9 1106.3,185.7 1107.1,187.6 1107.8,189.4 1108.6,191.3 1109.3,193.1 1110.1,195.0 1110.8,196.8 1111.5,198.7 1112.2,200.6 1112.9,202.4 1113.6,204.3 1114.3,206.2 1115.0,208.1 1115.6,209.9 1116.3,211.8 1116.9,213.7 1117.6,215.6 1118.2,217.5 1118.8,219.4 1119.5,221.4 1120.1,223.3 1120.7,225.2 1121.3,227.1 1121.9,229.0 1122.5,230.9 1123.0,232.8 1123.6,234.8 1124.2,236.7 1124.7,238.6 1125.3,240.5 1125.8,242.4 1126.4,244.3 1126.9,246.3 1127.4,248.2 1128.0,250.1 1128.5,252.0 1129.0,254.0 1129.5,255.9 1130.0,257.8 1130.5,259.8 1131.0,261.8 1131.5,263.7 1132.0,265.6 1132.5,267.6 1132.9,269.5 1133.4,271.4 1133.9,273.4 1134.3,275.3 1134.8,277.3 1135.2,279.2 1135.7,281.1 1136.1,283.1 1136.6,285.1 1137.0,287.1 1137.4,289.0 1137.9,291.0 1138.3,292.9 1138.7,294.9 1139.1,296.8 1139.5,298.7 1139.9,300.7 1140.3,302.6 1140.7,304.6 1141.1,306.6 1141.5,308.5 1141.9,310.6 1142.3,312.5 1142.7,314.5 1143.1,316.4 1143.5,318.4 1143.8,320.3 1144.2,322.3 1144.6,324.3 1144.9,326.2 1145.3,328.2 1145.7,330.1 1146.0,332.1 1146.4,334.1 1146.8,336.0 1147.1,338.0 1147.5,340.0 1147.8,342.0 1148.2,344.0 1148.5,345.9 1148.9,347.9 1149.2,349.9 1149.6,351.8 1149.9,353.8 1150.3,355.7 1150.6,357.7 1151.0,359.7 1151.3,361.6 1151.7,363.6 1152.0,365.6 1152.3,367.5 1152.7,369.5 1153.0,371.5 1153.4,373.5 1153.7,375.5 1154.1,377.5 1154.4,379.4 1154.7,381.4 1155.1,383.4 1155.4,385.3 1155.7,387.3 1156.1,389.3 1156.4,391.2 1156.7,393.2 1157.1,395.2 1157.4,397.1 1157.7,399.1 1158.1,401.1 1158.4,403.0 1158.7,405.0 1159.1,407.0 1159.4,408.9 1159.8,411.0 1160.1,413.0 1160.4,414.9 1160.7,416.9 1161.1,418.9 1161.4,420.8 1161.7,422.8 1162.0,424.8 1162.4,426.7 1162.7,428.7 1163.0,430.7 1163.3,432.6 1163.7,434.6 1164.0,436.6 1164.3,438.5 1164.6,440.5 1165.0,442.5 1165.3,444.4 1165.6,446.4 1165.9,448.5 1166.2,450.5 1166.6,452.4 1166.9,454.4 1167.2,456.4 1167.5,458.3 1167.8,460.3 1168.1,462.3 1168.5,464.2 1168.8,466.2 1169.1,468.2 1169.4,470.1 1169.7,472.1 1170.0,474.1 1170.3,476.1 1170.6,478.0 1170.9,480.0 1171.2,482.0 1171.6,483.9 1171.9,486.0 1172.2,488.0 1172.5,490.0 1172.8,491.9 1173.1,493.9 1173.4,495.9 1173.7,497.8 1174.0,499.8 1174.3,501.8 1174.6,503.8 1174.9,505.7 1175.2,507.7 1175.5,509.7 1175.8,511.6 1176.1,513.6 1176.4,515.6 1176.7,517.6 1177.0,519.5 1177.3,521.6 1177.5,523.6 1177.8,525.6 1178.1,527.5 1178.4,529.5 1178.7,531.5 1179.0,533.4 1179.3,535.4 1179.6,537.4 1179.8,539.4 1180.1,541.3 1180.4,543.3 1180.7,545.3 1181.0,547.3 1181.3,549.2 1181.5,551.2 1181.8,553.2 1182.1,555.2 1182.4,557.2 1182.7,559.2 1182.9,561.2 1183.2,563.2 1183.5,565.1 1183.7,567.1 1184.0,569.1 1184.3,571.1 1184.5,573.0 1184.8,575.0 1185.1,577.0 1185.3,579.0 1185.6,580.9 1185.9,582.9 1186.1,584.9 1186.4,586.9 1186.7,588.9 1186.9,590.9 1187.2,592.9 1187.5,594.9 1187.7,596.9 1188.0,598.8 1188.2,600.8 1188.5,602.8 1188.7,604.8 1189.0,606.7 1189.2,608.7 1189.5,610.7 1189.7,612.7 1190.0,614.7 1190.2,616.6 1190.5,618.6 1190.7,620.7 1191.0,622.7 1191.2,624.6 1191.4,626.6 1191.7,628.6 1191.9,630.6 1192.2,632.6 1192.4,634.5 1192.6,636.5 1192.9,638.5 1193.1,640.5 1193.3,642.5 1193.6,644.4 1193.8,646.4 1194.0,648.4 1194.2,650.4 1194.5,652.5 1194.7,654.4 1194.9,656.4 1195.2,658.4 1195.4,660.4 1195.6,662.4 1195.8,664.4 1196.0,666.3 1196.3,668.3 1196.5,670.3 1196.7,672.3 1196.9,674.3 1197.1,676.2 1197.4,678.2 1197.6,680.2 1197.8,682.2 1198.0,684.3 1198.2,686.3 1198.4,688.2 1198.7,690.2 1198.9,692.2 1199.1,694.2 1199.3,696.2 1199.5,698.1 1199.7,700.1 1199.9,702.1 1200.1,704.1 1200.3,706.1 1200.6,708.1 1200.8,710.0 1201.0,712.0 1201.2,714.0 1201.4,716.1 1201.6,718.1 1201.8,720.1 1202.0,722.0 1202.2,724.0 1202.4,726.0 1202.7,728.0 1202.9,730.0 1203.1,732.0 1203.3,733.9 1203.5,735.9 1203.7,737.9 1203.9,739.9 1204.1,741.9 1204.3,743.9 1204.5,745.8 1204.7,747.8 1204.9,749.8 1205.2,751.8 1205.4,753.9 1205.6,755.9 1205.8,757.8 1206.0,759.8 1206.2,761.8 1206.4,763.8 1206.6,765.8 1206.8,767.8 1207.1,769.8 1207.3,771.7 1207.5,773.7 1207.7,775.7 1207.9,777.7 1208.1,779.7 1208.3,781.7 1208.6,783.6 1208.8,785.6 1209.0,787.6 1209.2,789.6 1209.4,791.6 1209.7,793.6 1209.9,795.5 1210.1,797.5 1210.4,799.6 1210.6,801.6 1210.9,803.6 1211.1,805.5 1211.4,807.5 1211.7,809.5 1212.0,811.5 1212.3,813.4 1212.6,815.4 1212.9,817.4 1213.2,819.3 1213.6,821.3 1213.9,823.2 1214.3,825.3 1214.7,827.3 1215.1,829.2 1215.5,831.2 1215.9,833.1 1216.4,835.0 1216.8,837.0 1217.3,838.9 1217.8,840.9 1218.3,842.8 1218.8,844.7 1219.4,846.6 1220.0,848.5 1220.6,850.4 1221.2,852.3 1222.0,854.2 1222.7,856.1 1223.5,857.9 1224.4,859.7 1225.3,861.5 1226.3,863.2 1227.4,864.9 1228.5,866.5 1229.7,868.1 1231.0,869.7 1232.3,871.2 1233.6,872.7 1235.0,874.2 1236.4,875.6 1237.8,877.0 1239.2,878.4 1240.6,879.8 1242.1,881.1 1243.6,882.5 1245.0,883.9 1246.5,885.2 1248.0,886.6 1249.5,887.9 1251.0,889.3 1252.5,890.6 1254.0,891.9 1255.5,893.2 1257.1,894.5 1258.6,895.8 1260.1,897.1 1261.6,898.3 1263.2,899.6 1264.8,900.8 1266.3,902.0 1267.9,903.2 1269.5,904.4 1271.1,905.6 1272.8,906.8 1274.4,907.9 1276.1,909.1 1277.8,910.2 1279.4,911.3 1281.1,912.3 1282.8,913.4 1284.5,914.4 1286.3,915.4 1288.0,916.3 1289.8,917.3 1291.6,918.2 1293.4,919.0 1295.2,919.8 1297.1,920.7 1298.9,921.4 1300.8,922.1 1302.6,922.8 1304.5,923.5 1306.5,924.1 1308.4,924.7 1310.3,925.3 1312.2,925.9 1314.1,926.4 1316.0,926.9 1318.0,927.4 1319.9,927.8 1321.9,928.3 1323.8,928.7 1325.8,929.1 1327.7,929.5 1329.7,929.8 1331.6,930.2 1333.6,930.5 1335.6,930.9 1337.6,931.2 1339.5,931.5 1341.5,931.8 1343.6,932.1 1345.6,932.4 1347.5,932.6 1349.5,932.9 1351.5,933.1 1353.5,933.4 1355.5,933.6 1357.4,933.9 1359.4,934.1 1361.4,934.4 1363.4,934.6 1365.4,934.8 1367.3,935.0 1369.3,935.2 1371.3,935.4 1373.3,935.6 1375.3,935.8 1377.3,936.0 1379.3,936.2 1381.2,936.3 1383.3,936.5 1385.3,936.7 1387.3,936.8 1389.3,937.0 1391.3,937.2 1393.3,937.3 1395.3,937.4 1397.2,937.6 1399.2,937.7 1401.2,937.9 1403.2,938.0 1405.2,938.1 1407.2,938.2 1409.2,938.4 1411.2,938.5 1413.2,938.6 1415.3,938.7 1417.2,938.8 1419.2,938.9 1421.2,939.0 1423.2,939.1 1425.2,939.2 1427.2,939.3 1429.2,939.4 1431.2,939.5 1433.2,939.6 1435.2,939.7 1437.2,939.8 1439.2,939.9 1441.1,939.9 1443.1,940.0 1445.1,940.1 1447.1,940.2 1449.1,940.3 1451.1,940.4 1453.2,940.4 1455.2,940.5 1457.2,940.6 1459.2,940.7 1461.2,940.7 1463.2,940.8 1465.2,940.9 1467.2,941.0 1469.2,941.0 1471.1,941.1 1473.1,941.2 1475.1,941.3 1477.1,941.3 1479.1,941.4 1481.1,941.5 1483.1,941.6 1485.1,941.6 1487.1,941.7 1489.2,941.8 1491.2,941.8 1493.2,941.9 1495.2,942.0 1497.2,942.0 1499.2,942.1 1501.1,942.2 1503.1,942.2 1505.1,942.3 1507.1,942.4 1509.1,942.4 1511.1,942.5 1513.1,942.6 1515.1,942.6 1517.1,942.7 1519.1,942.8 1521.1,942.8 1523.1,942.9 1525.2,943.0 1527.2,943.0 1529.1,943.1 1531.1,943.1 1533.1,943.2 1535.1,943.3 1537.1,943.3 1539.1,943.4 1541.1,943.5 1543.1,943.5 1545.1,943.6 1547.1,943.6 1549.1,943.7 1551.1,943.7 1553.1,943.8 1555.1,943.9 1557.0,943.9 1559.1,944.0 1561.1,944.0 1563.1,944.1 1565.1,944.1 1567.1,944.2 1569.1,944.2 1571.1,944.3 1573.1,944.3 1575.1,944.4 1577.1,944.5 1579.1,944.5 1581.1,944.6 1583.1,944.6 1585.1,944.7 1587.1,944.7 1589.0,944.8 1591.0,944.8 1593.1,944.9 1595.1,944.9 1597.1,945.0 1599.1,945.0 1601.1,945.1 1603.1,945.1 1605.1,945.1 1607.1,945.2 1609.1,945.2 1611.1,945.3 1613.1,945.3 1615.1,945.4 1617.1,945.4 1619.0,945.5 1621.0,945.5 1623.0,945.5 1625.0,945.6 1627.1,945.6 1629.1,945.7 1631.1,945.7 1633.1,945.8 1635.1,945.8 1637.1,945.8 1639.1,945.9 1641.1,945.9 1643.1,946.0 1645.1,946.0 1647.1,946.0 1649.1,946.1 1651.0,946.1 1653.0,946.1 1655.0,946.2 1657.0,946.2 1659.0,946.3 1661.1,946.3 1663.1,946.3 1665.1,946.4 1667.1,946.4 1669.1,946.4 1671.1,946.5 1673.1,946.5 1675.1,946.5 1677.1,946.6 1679.1,946.6 1681.1,946.6 1683.0,946.7 1685.0,946.7 1687.0,946.7 1689.0,946.8 1691.0,946.8 1693.0,946.8 1695.0,946.8 1697.1,946.9 1699.1,946.9 1701.1,946.9 1703.1,947.0 1705.1,947.0 1707.1,947.0 1709.1,947.0 1711.1,947.1 1713.1,947.1 1715.1,947.1 1717.1,947.1 1719.0,947.2 1721.0,947.2 1723.0,947.2 1725.0,947.2 1727.0,947.3 1729.0,947.3 1731.0,947.3 1733.0,947.3" fill="none" stroke="#008000" stroke-width="5.4" stroke-linejoin="round" stroke-linecap="round"/>
<path d="M272.0,77.2 274.1,77.2 276.0,77.3 278.1,77.3 280.0,77.4 282.0,77.4 284.1,77.4 286.0,77.5 288.0,77.5 290.0,77.5 292.0,77.6 294.1,77.6 296.0,77.6 298.0,77.7 300.1,77.7 302.0,77.7 304.0,77.7 306.0,77.8 308.0,77.8 310.1,77.8 312.0,77.9 314.0,77.9 316.0,77.9 318.0,78.0 320.0,78.0 322.0,78.0 324.0,78.0 325.9,78.1 328.0,78.1 330.0,78.1 332.0,78.2 334.0,78.2 336.0,78.2 338.0,78.2 340.0,78.3 341.9,78.3 344.0,78.3 346.0,78.4 348.0,78.4 350.0,78.4 351.9,78.4 354.0,78.5 356.0,78.5 357.9,78.5 360.0,78.5 361.9,78.6 364.0,78.6 366.0,78.6 367.9,78.6 370.0,78.7 372.0,78.7 373.9,78.7 376.0,78.7 377.9,78.8 380.0,78.8 382.0,78.8 383.9,78.8 386.0,78.9 387.9,78.9 389.9,78.9 392.0,78.9 393.9,78.9 396.0,79.0 397.9,79.0 399.9,79.0 402.0,79.0 403.9,79.1 405.9,79.1 407.9,79.1 409.9,79.1 412.0,79.2 413.9,79.2 415.9,79.2 418.0,79.2 419.9,79.3 421.9,79.3 423.9,79.3 425.9,79.3 428.0,79.4 429.9,79.4 431.9,79.4 433.9,79.4 435.9,79.5 437.9,79.5 439.9,79.5 441.9,79.5 443.9,79.5 445.9,79.6 447.9,79.6 449.9,79.6 451.9,79.6 453.8,79.7 455.9,79.7 457.9,79.7 459.9,79.7 461.9,79.8 463.8,79.8 465.9,79.8 467.9,79.9 469.8,79.9 471.9,79.9 473.8,79.9 475.9,80.0 477.9,80.0 479.8,80.0 481.9,80.0 483.9,80.1 485.9,80.1 487.9,80.1 489.8,80.1 491.9,80.2 493.9,80.2 495.8,80.2 497.9,80.3 499.8,80.3 501.9,80.3 503.9,80.4 505.8,80.4 507.9,80.4 509.8,80.4 511.8,80.5 513.9,80.5 515.8,80.5 517.9,80.6 519.8,80.6 521.8,80.6 523.9,80.7 525.8,80.7 527.8,80.7 529.9,80.8 531.8,80.8 533.9,80.8 535.8,80.9 537.8,80.9 539.9,80.9 541.8,81.0 543.8,81.0 545.8,81.0 547.8,81.1 549.8,81.1 551.8,81.2 553.8,81.2 555.8,81.2 557.8,81.3 559.8,81.3 561.8,81.3 563.8,81.4 565.7,81.4 567.8,81.5 569.8,81.5 571.8,81.5 573.8,81.6 575.7,81.6 577.8,81.7 579.8,81.7 581.7,81.8 583.8,81.8 585.8,81.8 587.8,81.9 589.8,81.9 591.7,82.0 593.8,82.0 595.8,82.1 597.7,82.1 599.8,82.2 601.7,82.2 603.7,82.3 605.8,82.3 607.7,82.4 609.8,82.4 611.7,82.5 613.7,82.5 615.8,82.6 617.7,82.6 619.7,82.7 621.8,82.7 623.7,82.8 625.8,82.8 627.7,82.9 629.7,82.9 631.8,83.0 633.7,83.0 635.7,83.1 637.7,83.1 639.7,83.2 641.8,83.2 643.7,83.3 645.7,83.3 647.7,83.4 649.7,83.5 651.7,83.5 653.7,83.6 655.7,83.6 657.6,83.7 659.7,83.7 661.7,83.8 663.7,83.8 665.7,83.9 667.7,84.0 669.7,84.0 671.7,84.1 673.6,84.1 675.7,84.2 677.7,84.2 679.7,84.3 681.7,84.4 683.6,84.4 685.7,84.5 687.7,84.5 689.6,84.6 691.7,84.7 693.6,84.7 695.7,84.8 697.7,84.8 699.6,84.9 701.7,85.0 703.6,85.0 705.6,85.1 707.7,85.1 709.6,85.2 711.7,85.3 713.6,85.3 715.6,85.4 717.6,85.5 719.6,85.5 721.7,85.6 723.6,85.6 725.6,85.7 727.6,85.8 729.6,85.8 731.6,85.9 733.6,86.0 735.6,86.0 737.6,86.1 739.6,86.1 741.6,86.2 743.6,86.3 745.6,86.3 747.6,86.4 749.6,86.5 751.5,86.5 753.6,86.6 755.6,86.7 757.5,86.7 759.6,86.8 761.5,86.9 763.6,87.0 765.6,87.0 767.5,87.1 769.6,87.2 771.5,87.3 773.6,87.3 775.6,87.4 777.5,87.5 779.6,87.6 781.5,87.7 783.6,87.7 785.5,87.8 787.5,87.9 789.6,88.0 791.5,88.1 793.5,88.2 795.5,88.3 797.5,88.4 799.6,88.5 801.5,88.5 803.5,88.6 805.5,88.7 807.5,88.8 809.4,88.9 811.5,89.0 813.5,89.2 815.5,89.3 817.5,89.4 819.4,89.5 821.5,89.6 823.5,89.7 825.4,89.8 827.5,89.9 829.4,90.1 831.4,90.2 833.4,90.3 835.4,90.4 837.5,90.6 839.4,90.7 841.4,90.8 843.4,91.0 845.4,91.1 847.4,91.2 849.4,91.4 851.4,91.5 853.3,91.7 855.4,91.8 857.4,92.0 859.3,92.1 861.4,92.3 863.3,92.5 865.3,92.6 867.3,92.8 869.3,93.0 871.3,93.2 873.3,93.4 875.3,93.6 877.2,93.8 879.3,94.0 881.2,94.2 883.2,94.5 885.2,94.7 887.2,95.0 889.2,95.2 891.2,95.5 893.1,95.8 895.1,96.0 897.1,96.3 899.0,96.6 901.0,97.0 903.0,97.3 905.0,97.6 906.9,98.0 908.9,98.3 910.9,98.7 912.8,99.1 914.8,99.5 916.7,99.9 918.6,100.4 920.6,100.8 922.5,101.3 924.5,101.8 926.4,102.3 928.3,102.8 930.3,103.3 932.2,103.8 934.2,104.4 936.1,105.0 937.9,105.6 939.9,106.2 941.7,106.9 943.7,107.6 945.5,108.2 947.4,109.0 949.2,109.7 951.1,110.5 952.9,111.3 954.8,112.1 956.5,112.9 958.3,113.8 960.1,114.7 961.9,115.7 963.6,116.7 965.3,117.7 967.0,118.8 968.7,119.9 970.3,121.0 972.0,122.1 973.6,123.3 975.2,124.6 976.7,125.8 978.2,127.1 979.7,128.4 981.1,129.8 982.6,131.2 984.0,132.6 985.4,134.1 986.7,135.5 988.1,137.0 989.4,138.5 990.7,140.0 992.0,141.5 993.2,143.1 994.5,144.7 995.8,146.3 997.0,147.8 998.2,149.4 999.5,150.9 1000.7,152.5 1001.9,154.1 1003.1,155.7 1004.3,157.4 1005.4,159.0 1006.6,160.7 1007.6,162.3 1008.7,164.0 1009.8,165.7 1010.8,167.4 1011.8,169.1 1012.8,170.9 1013.7,172.6 1014.7,174.4 1015.6,176.2 1016.5,177.9 1017.3,179.8 1018.2,181.5 1019.0,183.4 1019.8,185.2 1020.6,187.1 1021.3,188.9 1022.1,190.8 1022.8,192.6 1023.5,194.5 1024.2,196.4 1024.9,198.2 1025.6,200.1 1026.3,202.0 1026.9,203.9 1027.5,205.7 1028.2,207.7 1028.8,209.6 1029.5,211.5 1030.1,213.3 1030.7,215.3 1031.3,217.2 1031.9,219.0 1032.5,220.9 1033.2,222.9 1033.8,224.8 1034.4,226.6 1035.1,228.6 1035.7,230.5 1036.3,232.3 1036.9,234.3 1037.5,236.2 1038.1,238.0 1038.8,240.0 1039.4,241.9 1040.0,243.7 1040.6,245.7 1041.2,247.6 1041.8,249.5 1042.4,251.4 1043.0,253.3 1043.6,255.2 1044.2,257.1 1044.8,259.1 1045.4,260.9 1045.9,262.8 1046.5,264.8 1047.0,266.7 1047.6,268.6 1048.1,270.5 1048.7,272.5 1049.2,274.4 1049.7,276.3 1050.2,278.3 1050.7,280.2 1051.2,282.2 1051.7,284.1 1052.2,286.0 1052.6,288.0 1053.1,289.9 1053.6,291.9 1054.0,293.8 1054.4,295.7 1054.9,297.7 1055.3,299.6 1055.7,301.6 1056.1,303.5 1056.5,305.5 1056.9,307.5 1057.3,309.4 1057.7,311.3 1058.1,313.4 1058.5,315.3 1058.9,317.3 1059.3,319.2 1059.7,321.2 1060.0,323.2 1060.4,325.1 1060.8,327.0 1061.2,329.1 1061.6,331.0 1061.9,332.9 1062.3,334.9 1062.7,336.9 1063.1,338.8 1063.5,340.8 1063.9,342.7 1064.3,344.7 1064.7,346.7 1065.1,348.6 1065.5,350.6 1065.9,352.6 1066.3,354.5 1066.7,356.5 1067.1,358.4 1067.5,360.3 1067.9,362.4 1068.3,364.3 1068.7,366.2 1069.2,368.2 1069.6,370.1 1070.0,372.2 1070.4,374.1 1070.8,376.0 1071.3,378.0 1071.7,379.9 1072.1,381.8 1072.5,383.9 1072.9,385.8 1073.4,387.7 1073.8,389.7 1074.2,391.6 1074.6,393.6 1075.1,395.5 1075.5,397.5 1075.9,399.5 1076.3,401.4 1076.7,403.4 1077.2,405.3 1077.6,407.2 1078.0,409.3 1078.4,411.2 1078.8,413.1 1079.2,415.1 1079.6,417.0 1080.1,419.0 1080.5,421.0 1080.9,422.9 1081.3,424.9 1081.7,426.8 1082.1,428.8 1082.5,430.7 1082.9,432.7 1083.3,434.7 1083.7,436.6 1084.1,438.5 1084.5,440.6 1084.9,442.5 1085.2,444.5 1085.6,446.4 1086.0,448.3 1086.4,450.4 1086.7,452.3 1087.1,454.3 1087.5,456.2 1087.8,458.2 1088.2,460.2 1088.6,462.1 1088.9,464.1 1089.3,466.1 1089.6,468.0 1089.9,470.0 1090.3,472.0 1090.6,473.9 1091.0,475.9 1091.3,477.9 1091.6,479.9 1091.9,481.8 1092.3,483.8 1092.6,485.8 1092.9,487.8 1093.2,489.7 1093.5,491.7 1093.8,493.7 1094.2,495.6 1094.5,497.6 1094.8,499.6 1095.1,501.6 1095.4,503.5 1095.7,505.5 1096.0,507.5 1096.3,509.5 1096.6,511.4 1097.0,513.4 1097.3,515.4 1097.6,517.4 1097.9,519.3 1098.2,521.3 1098.5,523.3 1098.8,525.3 1099.1,527.2 1099.4,529.2 1099.8,531.2 1100.1,533.1 1100.4,535.1 1100.7,537.1 1101.0,539.1 1101.4,541.0 1101.7,543.0 1102.0,545.0 1102.3,546.9 1102.7,549.0 1103.0,550.9 1103.3,552.8 1103.7,554.9 1104.0,556.8 1104.3,558.7 1104.6,560.8 1105.0,562.7 1105.3,564.7 1105.6,566.7 1106.0,568.6 1106.3,570.6 1106.7,572.6 1107.0,574.6 1107.3,576.5 1107.7,578.5 1108.0,580.5 1108.4,582.4 1108.7,584.4 1109.0,586.4 1109.4,588.3 1109.7,590.3 1110.0,592.3 1110.4,594.2 1110.7,596.2 1111.1,598.2 1111.4,600.1 1111.7,602.1 1112.1,604.1 1112.4,606.1 1112.7,608.0 1113.1,610.0 1113.4,612.0 1113.7,613.9 1114.1,615.9 1114.4,617.9 1114.7,619.8 1115.1,621.9 1115.4,623.8 1115.7,625.7 1116.1,627.8 1116.4,629.7 1116.7,631.6 1117.1,633.7 1117.4,635.6 1117.7,637.5 1118.1,639.6 1118.4,641.5 1118.7,643.5 1119.1,645.5 1119.4,647.4 1119.7,649.4 1120.1,651.4 1120.4,653.3 1120.7,655.3 1121.1,657.3 1121.4,659.3 1121.7,661.2 1122.1,663.2 1122.4,665.2 1122.7,667.1 1123.1,669.1 1123.4,671.1 1123.7,673.0 1124.1,675.0 1124.4,677.0 1124.8,678.9 1125.1,681.0 1125.5,682.9 1125.8,684.8 1126.1,686.9 1126.5,688.8 1126.8,690.7 1127.2,692.8 1127.5,694.7 1127.9,696.7 1128.2,698.7 1128.6,700.6 1128.9,702.6 1129.3,704.5 1129.6,706.5 1130.0,708.5 1130.3,710.4 1130.7,712.5 1131.0,714.4 1131.4,716.3 1131.8,718.3 1132.1,720.3 1132.5,722.3 1132.9,724.2 1133.2,726.1 1133.6,728.2 1134.0,730.1 1134.3,732.1 1134.7,734.0 1135.1,736.0 1135.5,738.0 1135.8,739.9 1136.2,741.9 1136.6,743.8 1137.0,745.8 1137.4,747.8 1137.8,749.7 1138.2,751.7 1138.5,753.6 1138.9,755.6 1139.3,757.6 1139.7,759.5 1140.1,761.5 1140.5,763.4 1140.9,765.4 1141.4,767.4 1141.8,769.3 1142.2,771.3 1142.6,773.2 1143.0,775.1 1143.4,777.1 1143.8,779.1 1144.3,781.1 1144.7,783.0 1145.1,784.9 1145.6,786.9 1146.0,788.8 1146.4,790.7 1146.9,792.8 1147.3,794.7 1147.8,796.6 1148.3,798.6 1148.7,800.5 1149.2,802.4 1149.6,804.4 1150.1,806.3 1150.6,808.3 1151.0,810.3 1151.5,812.2 1152.0,814.1 1152.5,816.1 1153.0,818.0 1153.5,819.9 1154.1,821.9 1154.6,823.8 1155.2,825.7 1155.7,827.6 1156.4,829.5 1156.9,831.4 1157.6,833.3 1158.2,835.2 1158.8,837.0 1159.5,839.0 1160.3,840.8 1161.0,842.7 1161.8,844.5 1162.7,846.3 1163.6,848.0 1164.6,849.8 1165.7,851.5 1166.8,853.2 1168.0,854.8 1169.3,856.3 1170.7,857.8 1172.0,859.1 1173.5,860.5 1175.0,861.9 1176.6,863.2 1178.1,864.4 1179.7,865.6 1181.3,866.8 1182.9,867.9 1184.7,869.0 1186.3,870.1 1188.0,871.1 1189.7,872.1 1191.5,873.2 1193.2,874.1 1194.9,875.1 1196.7,876.1 1198.5,877.1 1200.2,878.0 1201.9,879.0 1203.6,880.0 1205.4,881.0 1207.1,882.0 1208.8,883.0 1210.5,884.0 1212.3,885.1 1213.9,886.2 1215.6,887.3 1217.3,888.4 1218.9,889.5 1220.5,890.6 1222.2,891.8 1223.8,892.9 1225.5,894.1 1227.1,895.2 1228.7,896.4 1230.4,897.6 1232.0,898.7 1233.6,899.9 1235.3,901.1 1236.9,902.2 1238.5,903.3 1240.2,904.5 1241.8,905.6 1243.5,906.8 1245.1,907.9 1246.7,909.0 1248.4,910.1 1250.1,911.2 1251.8,912.3 1253.5,913.3 1255.2,914.4 1256.9,915.4 1258.6,916.4 1260.4,917.4 1262.1,918.3 1263.9,919.3 1265.6,920.2 1267.4,921.1 1269.2,922.0 1271.0,922.9 1272.8,923.7 1274.6,924.6 1276.4,925.4 1278.3,926.2 1280.1,927.0 1281.9,927.7 1283.8,928.5 1285.7,929.2 1287.6,929.9 1289.4,930.6 1291.3,931.3 1293.2,931.9 1295.1,932.5 1297.0,933.2 1298.9,933.7 1300.8,934.3 1302.8,934.9 1304.7,935.4 1306.7,935.9 1308.6,936.4 1310.5,936.9 1312.5,937.3 1314.4,937.7 1316.4,938.2 1318.3,938.6 1320.2,938.9 1322.2,939.3 1324.2,939.7 1326.2,940.0 1328.1,940.3 1330.1,940.6 1332.1,941.0 1334.1,941.2 1336.0,941.5 1338.0,941.8 1340.0,942.1 1341.9,942.3 1344.0,942.6 1345.9,942.8 1347.9,943.0 1349.9,943.3 1351.9,943.5 1353.8,943.7 1355.9,943.9 1357.9,944.1 1359.8,944.3 1361.9,944.5 1363.8,944.7 1365.9,944.9 1367.8,945.1 1369.8,945.3 1371.8,945.5 1373.8,945.7 1375.7,945.9 1377.8,946.1 1379.7,946.2 1381.7,946.4 1383.8,946.6 1385.7,946.8 1387.8,946.9 1389.7,947.1 1391.7,947.2 1393.7,947.4 1395.7,947.6 1397.6,947.7 1399.7,947.9 1401.6,948.0 1403.7,948.1 1405.7,948.3 1407.6,948.4 1409.7,948.6 1411.6,948.7 1413.6,948.8 1415.6,949.0 1417.6,949.1 1419.6,949.2 1421.6,949.3 1423.6,949.5 1425.6,949.6 1427.6,949.7 1429.6,949.8 1431.6,949.9 1433.5,950.1 1435.6,950.2 1437.6,950.3 1439.6,950.4 1441.6,950.5 1443.5,950.6 1445.6,950.7 1447.5,950.8 1449.5,950.9 1451.6,951.0 1453.5,951.1 1455.6,951.2 1457.5,951.3 1459.5,951.4 1461.5,951.5 1463.5,951.6 1465.6,951.7 1467.5,951.8 1469.5,951.9 1471.5,952.0 1473.5,952.1 1475.4,952.2 1477.5,952.2 1479.5,952.3 1481.5,952.4 1483.5,952.5 1485.4,952.6 1487.5,952.7 1489.5,952.8 1491.4,952.9 1493.5,952.9 1495.4,953.0 1497.5,953.1 1499.5,953.2 1501.4,953.3 1503.5,953.4 1505.4,953.4 1507.4,953.5 1509.5,953.6 1511.4,953.7 1513.5,953.8 1515.4,953.9 1517.4,953.9 1519.5,954.0 1521.4,954.1 1523.4,954.2 1525.4,954.3 1527.4,954.4 1529.5,954.4 1531.4,954.5 1533.4,954.6 1535.4,954.7 1537.4,954.8 1539.3,954.8 1541.4,954.9 1543.4,955.0 1545.3,955.1 1547.4,955.2 1549.3,955.3 1551.4,955.3 1553.4,955.4 1555.3,955.5 1557.4,955.6 1559.3,955.7 1561.3,955.8 1563.4,955.9 1565.3,955.9 1567.4,956.0 1569.3,956.1 1571.3,956.2 1573.4,956.3 1575.3,956.4 1577.3,956.5 1579.3,956.6 1581.3,956.7 1583.4,956.8 1585.3,956.8 1587.3,956.9 1589.3,957.0 1591.3,957.1 1593.3,957.2 1595.3,957.3 1597.3,957.4 1599.3,957.5 1601.3,957.6 1603.2,957.7 1605.3,957.8 1607.3,957.9 1609.2,958.0 1611.3,958.1 1613.2,958.2 1615.3,958.4 1617.3,958.5 1619.2,958.6 1621.3,958.7 1623.2,958.8 1625.2,958.9 1627.2,959.0 1629.2,959.1 1631.3,959.2 1633.2,959.3 1635.2,959.4 1637.2,959.5 1639.2,959.6 1641.1,959.7 1643.2,959.8 1645.2,959.9 1647.2,960.0 1649.2,960.1 1651.1,960.2 1653.2,960.3 1655.2,960.4 1657.1,960.5 1659.2,960.6 1661.1,960.6 1663.2,960.7 1665.1,960.8 1667.1,960.9 1669.2,961.0 1671.1,961.1 1673.2,961.2 1675.1,961.2 1677.1,961.3 1679.2,961.4 1681.1,961.5 1683.1,961.5 1685.1,961.6 1687.1,961.7 1689.2,961.7 1691.1,961.8 1693.1,961.8 1695.1,961.9 1697.1,962.0 1699.1,962.0 1701.1,962.0 1703.1,962.1 1705.1,962.1 1707.1,962.2 1709.1,962.2 1711.1,962.2 1713.1,962.3 1715.1,962.3 1717.1,962.3 1719.1,962.3 1721.0,962.3 1723.1,962.4 1725.1,962.4 1727.0,962.4 1729.1,962.4 1731.1,962.4 1733.0,962.4" fill="none" stroke="#ff8000" stroke-width="5.4" stroke-linejoin="round" stroke-linecap="round"/>
<path d="M272.0,74.5 274.0,74.5 276.0,74.5 278.1,74.6 280.0,74.6 282.0,74.6 284.1,74.6 286.0,74.7 288.0,74.7 290.0,74.7 292.1,74.7 294.0,74.7 296.0,74.8 298.0,74.8 300.0,74.8 302.0,74.8 304.0,74.8 306.1,74.9 308.0,74.9 310.0,74.9 312.0,74.9 314.0,74.9 316.0,75.0 318.0,75.0 320.1,75.0 322.0,75.0 324.0,75.0 326.0,75.0 328.0,75.0 330.0,75.1 332.0,75.1 334.0,75.1 336.0,75.1 338.0,75.1 340.0,75.1 341.9,75.1 344.0,75.2 346.0,75.2 348.0,75.2 349.9,75.2 352.0,75.2 354.0,75.2 355.9,75.2 358.0,75.2 360.0,75.3 362.0,75.3 363.9,75.3 366.0,75.3 368.0,75.3 369.9,75.3 371.9,75.3 374.0,75.3 376.0,75.3 377.9,75.4 379.9,75.4 382.0,75.4 384.0,75.4 385.9,75.4 388.0,75.4 390.0,75.4 391.9,75.4 393.9,75.4 396.0,75.4 398.0,75.4 399.9,75.5 401.9,75.5 404.0,75.5 406.0,75.5 407.9,75.5 409.9,75.5 412.0,75.5 413.9,75.5 415.9,75.5 417.9,75.5 420.0,75.6 421.9,75.6 423.9,75.6 426.0,75.6 428.0,75.6 429.9,75.6 431.9,75.6 434.0,75.6 435.9,75.6 437.9,75.6 439.9,75.7 442.0,75.7 443.9,75.7 445.9,75.7 447.9,75.7 450.0,75.7 451.9,75.7 453.9,75.7 455.9,75.7 457.9,75.7 459.9,75.8 461.9,75.8 463.9,75.8 465.9,75.8 467.9,75.8 469.9,75.8 472.0,75.8 473.9,75.8 475.9,75.9 477.9,75.9 479.8,75.9 481.9,75.9 483.9,75.9 485.9,75.9 487.8,75.9 489.9,76.0 491.9,76.0 493.9,76.0 495.9,76.0 497.9,76.0 499.9,76.0 501.8,76.1 503.9,76.1 505.9,76.1 507.9,76.1 509.8,76.1 511.9,76.2 513.9,76.2 515.8,76.2 517.8,76.2 519.9,76.2 521.9,76.3 523.8,76.3 525.8,76.3 527.9,76.3 529.9,76.3 531.8,76.4 533.9,76.4 535.9,76.4 537.8,76.4 539.8,76.5 541.9,76.5 543.9,76.5 545.8,76.5 547.8,76.6 549.9,76.6 551.8,76.6 553.8,76.7 555.8,76.7 557.9,76.7 559.8,76.7 561.8,76.8 563.9,76.8 565.9,76.8 567.8,76.9 569.8,76.9 571.9,76.9 573.8,77.0 575.8,77.0 577.8,77.0 579.9,77.1 581.8,77.1 583.8,77.2 585.9,77.2 587.8,77.2 589.8,77.3 591.8,77.3 593.8,77.3 595.8,77.4 597.8,77.4 599.8,77.5 601.8,77.5 603.8,77.6 605.8,77.6 607.7,77.7 609.8,77.7 611.8,77.7 613.8,77.8 615.8,77.8 617.8,77.9 619.8,77.9 621.7,78.0 623.8,78.0 625.8,78.1 627.8,78.1 629.7,78.2 631.8,78.2 633.8,78.3 635.7,78.3 637.8,78.4 639.8,78.4 641.7,78.5 643.7,78.5 645.8,78.6 647.8,78.7 649.7,78.7 651.7,78.8 653.8,78.8 655.7,78.9 657.7,78.9 659.8,79.0 661.8,79.0 663.7,79.1 665.7,79.2 667.8,79.2 669.7,79.3 671.7,79.3 673.7,79.4 675.8,79.5 677.7,79.5 679.7,79.6 681.7,79.6 683.7,79.7 685.7,79.7 687.7,79.8 689.8,79.9 691.7,79.9 693.7,80.0 695.7,80.0 697.8,80.1 699.7,80.2 701.7,80.2 703.7,80.3 705.6,80.3 707.7,80.4 709.7,80.5 711.7,80.5 713.6,80.6 715.7,80.6 717.7,80.7 719.7,80.8 721.6,80.8 723.7,80.9 725.7,80.9 727.7,81.0 729.6,81.0 731.6,81.1 733.7,81.2 735.7,81.2 737.7,81.3 739.6,81.3 741.6,81.4 743.7,81.5 745.7,81.5 747.6,81.6 749.6,81.6 751.6,81.7 753.7,81.7 755.6,81.8 757.6,81.9 759.6,81.9 761.7,82.0 763.7,82.0 765.6,82.1 767.6,82.1 769.6,82.2 771.7,82.2 773.6,82.3 775.6,82.3 777.6,82.4 779.7,82.5 781.6,82.5 783.6,82.6 785.6,82.6 787.7,82.7 789.6,82.7 791.6,82.8 793.6,82.8 795.6,82.9 797.6,82.9 799.6,83.0 801.5,83.0 803.6,83.1 805.6,83.1 807.5,83.2 809.6,83.2 811.6,83.3 813.6,83.3 815.6,83.4 817.5,83.4 819.6,83.5 821.5,83.5 823.6,83.6 825.5,83.6 827.6,83.7 829.6,83.7 831.6,83.8 833.6,83.9 835.5,84.0 837.6,84.1 839.5,84.2 841.6,84.3 843.6,84.5 845.5,84.6 847.5,84.8 849.6,85.0 851.5,85.2 853.5,85.4 855.5,85.7 857.5,86.0 859.5,86.3 861.4,86.7 863.3,87.1 865.2,87.5 867.2,87.9 869.1,88.4 871.1,88.9 873.0,89.5 874.9,90.1 876.8,90.8 878.7,91.5 880.5,92.2 882.4,93.0 884.2,93.8 886.0,94.7 887.8,95.6 889.5,96.5 891.3,97.5 893.0,98.6 894.7,99.7 896.3,100.8 897.9,101.9 899.6,103.2 901.2,104.4 902.6,105.6 904.1,107.0 905.6,108.4 907.1,109.8 908.4,111.1 909.8,112.6 911.1,114.2 912.4,115.7 913.6,117.2 914.8,118.9 915.9,120.5 917.0,122.3 918.0,123.9 919.0,125.7 919.9,127.5 920.8,129.2 921.6,131.1 922.4,133.0 923.6,134.5 925.3,135.4 926.7,136.9 927.8,138.6 928.8,140.3 929.7,142.0 930.6,143.8 931.4,145.6 932.1,147.5 932.8,149.4 933.4,151.3 934.0,153.3 934.6,155.1 935.2,157.1 935.7,159.0 936.3,160.9 936.8,162.8 937.3,164.7 937.9,166.6 938.5,168.6 939.0,170.4 939.5,172.4 940.1,174.4 940.6,176.2 941.2,178.2 941.8,180.1 942.3,182.1 942.8,183.9 943.4,185.9 943.9,187.8 944.5,189.7 945.0,191.6 945.6,193.6 946.1,195.4 946.6,197.4 947.2,199.4 947.7,201.3 948.2,203.2 948.8,205.1 949.3,207.1 949.8,208.9 950.3,210.9 950.8,212.9 951.3,214.8 951.8,216.7 952.3,218.6 952.8,220.6 953.3,222.6 953.8,224.4 954.3,226.4 954.8,228.4 955.3,230.3 955.7,232.2 956.2,234.2 956.7,236.1 957.1,238.1 957.5,240.0 958.0,242.0 958.4,243.9 958.9,245.8 959.3,247.8 959.7,249.8 960.2,251.7 960.6,253.6 961.0,255.6 961.4,257.6 961.8,259.6 962.2,261.5 962.6,263.4 963.0,265.4 963.4,267.4 963.8,269.3 964.2,271.3 964.6,273.3 964.9,275.2 965.3,277.2 965.7,279.2 966.1,281.1 966.4,283.0 966.8,285.0 967.2,287.0 967.6,289.0 967.9,290.9 968.3,292.9 968.7,294.9 969.0,296.8 969.4,298.8 969.7,300.8 970.1,302.8 970.4,304.7 970.8,306.7 971.1,308.6 971.5,310.6 971.8,312.5 972.2,314.5 972.5,316.5 972.9,318.4 973.2,320.4 973.6,322.4 973.9,324.4 974.2,326.3 974.6,328.3 974.9,330.3 975.3,332.2 975.6,334.2 975.9,336.2 976.3,338.2 976.6,340.1 976.9,342.1 977.3,344.1 977.6,346.1 977.9,348.0 978.2,350.0 978.6,352.0 978.9,353.9 979.2,355.9 979.5,357.9 979.8,359.9 980.1,361.8 980.5,363.8 980.8,365.8 981.1,367.8 981.4,369.7 981.7,371.7 982.0,373.7 982.3,375.6 982.6,377.6 982.9,379.6 983.3,381.6 983.6,383.5 983.9,385.5 984.2,387.5 984.5,389.5 984.8,391.4 985.1,393.4 985.4,395.4 985.6,397.3 985.9,399.3 986.2,401.4 986.5,403.4 986.8,405.3 987.1,407.3 987.4,409.3 987.7,411.3 988.0,413.2 988.3,415.2 988.6,417.2 988.8,419.1 989.1,421.1 989.4,423.1 989.7,425.1 990.0,427.0 990.2,429.0 990.5,431.0 990.8,432.9 991.1,434.9 991.3,437.0 991.6,439.0 991.9,440.9 992.2,442.9 992.4,444.9 992.7,446.9 993.0,448.8 993.2,450.8 993.5,452.8 993.8,454.7 994.0,456.7 994.3,458.8 994.6,460.8 994.8,462.7 995.1,464.7 995.4,466.7 995.6,468.6 995.9,470.6 996.1,472.6 996.4,474.6 996.6,476.5 996.9,478.5 997.2,480.6 997.4,482.6 997.7,484.5 997.9,486.5 998.2,488.5 998.4,490.4 998.7,492.4 998.9,494.4 999.2,496.4 999.4,498.4 999.7,500.4 999.9,502.4 1000.2,504.3 1000.4,506.3 1000.7,508.3 1000.9,510.3 1001.1,512.2 1001.4,514.2 1001.6,516.3 1001.9,518.2 1002.1,520.2 1002.3,522.2 1002.6,524.2 1002.8,526.1 1003.1,528.1 1003.3,530.1 1003.5,532.2 1003.8,534.1 1004.0,536.1 1004.2,538.1 1004.5,540.0 1004.7,542.0 1004.9,544.0 1005.2,546.1 1005.4,548.0 1005.6,550.0 1005.9,552.0 1006.1,553.9 1006.3,555.9 1006.6,557.9 1006.8,559.9 1007.0,561.9 1007.2,563.9 1007.5,565.9 1007.7,567.8 1007.9,569.8 1008.1,571.8 1008.4,573.8 1008.6,575.8 1008.8,577.8 1009.0,579.8 1009.3,581.8 1009.5,583.7 1009.7,585.7 1009.9,587.7 1010.1,589.7 1010.4,591.7 1010.6,593.7 1010.8,595.7 1011.0,597.6 1011.2,599.6 1011.4,601.6 1011.7,603.6 1011.9,605.6 1012.1,607.6 1012.3,609.6 1012.5,611.5 1012.7,613.5 1013.0,615.5 1013.2,617.5 1013.4,619.5 1013.6,621.5 1013.8,623.5 1014.0,625.4 1014.2,627.4 1014.5,629.5 1014.7,631.5 1014.9,633.4 1015.1,635.4 1015.3,637.4 1015.5,639.3 1015.7,641.3 1015.9,643.4 1016.1,645.4 1016.3,647.3 1016.6,649.3 1016.8,651.3 1017.0,653.2 1017.2,655.3 1017.4,657.3 1017.6,659.3 1017.8,661.2 1018.0,663.2 1018.2,665.2 1018.4,667.3 1018.6,669.2 1018.8,671.2 1019.0,673.2 1019.2,675.1 1019.5,677.1 1019.7,679.1 1019.9,681.2 1020.1,683.1 1020.3,685.1 1020.5,687.1 1020.7,689.0 1020.9,691.0 1021.1,693.1 1021.3,695.1 1021.5,697.0 1021.7,699.0 1021.9,701.0 1022.1,703.0 1022.3,704.9 1022.5,707.0 1022.7,709.0 1022.9,710.9 1023.1,712.9 1023.3,714.9 1023.5,717.0 1023.7,718.9 1023.9,720.9 1024.1,722.9 1024.3,724.8 1024.5,726.8 1024.8,728.8 1025.0,730.9 1025.2,732.8 1025.4,734.8 1025.6,736.8 1025.8,738.8 1026.0,740.7 1026.2,742.8 1026.4,744.8 1026.6,746.7 1026.8,748.7 1027.0,750.7 1027.2,752.7 1027.4,754.7 1027.6,756.7 1027.8,758.7 1028.0,760.6 1028.2,762.6 1028.4,764.6 1028.6,766.7 1028.8,768.6 1029.0,770.6 1029.2,772.6 1029.4,774.6 1029.6,776.5 1029.8,778.5 1030.0,780.6 1030.2,782.5 1030.4,784.5 1030.6,786.5 1030.8,788.5 1031.0,790.4 1031.2,792.5 1031.4,794.5 1031.7,796.5 1031.9,798.4 1032.1,800.4 1032.3,802.4 1032.5,804.3 1032.7,806.4 1032.9,808.4 1033.1,810.4 1033.3,812.3 1033.5,814.3 1033.7,816.3 1033.9,818.3 1034.1,820.3 1034.3,822.3 1034.5,824.3 1034.7,826.2 1034.9,828.2 1035.2,830.3 1035.4,832.3 1035.6,834.2 1035.8,836.2 1036.0,838.2 1036.2,840.1 1036.4,842.1 1036.6,844.2 1036.8,846.2 1037.0,848.1 1037.2,850.1 1037.5,852.1 1037.7,854.1 1037.9,856.0 1038.1,858.1 1038.3,860.1 1038.5,862.0 1038.7,864.0 1039.0,866.0 1039.2,868.0 1039.4,869.9 1039.6,872.0 1039.8,874.0 1040.0,876.0 1040.3,877.9 1040.5,879.9 1040.7,881.9 1040.9,883.8 1041.2,885.9 1041.4,887.9 1041.6,889.9 1041.9,891.8 1042.1,893.8 1042.3,895.8 1042.6,897.8 1042.8,899.7 1043.1,901.8 1043.3,903.8 1043.5,905.7 1043.8,907.7 1044.0,909.7 1044.3,911.7 1044.5,913.6 1044.8,915.6 1045.1,917.6 1045.3,919.7 1045.6,921.6 1045.9,923.6 1046.1,925.6 1046.4,927.5 1046.7,929.5 1047.0,931.5 1047.2,933.5 1047.5,935.4 1047.8,937.4 1048.1,939.4 1048.4,941.3 1048.7,943.3 1049.0,945.3 1049.3,947.3 1049.6,949.2 1049.9,951.2 1050.2,953.3 1050.6,955.2 1050.9,957.2 1051.2,959.2 1051.5,961.1 1051.9,963.1 1052.2,965.1 1052.6,967.1 1052.9,969.0 1053.3,971.0 1053.6,973.0 1054.0,974.9 1054.3,976.9 1054.7,978.9 1055.1,980.8 1055.4,982.8 1055.8,984.8 1056.2,986.6 1056.6,988.6 1057.0,990.6 1057.4,992.5 1057.8,994.5 1058.2,996.5 1058.6,998.4 1059.0,1000.4 1059.4,1002.3 1059.9,1004.3 1060.3,1006.2 1060.7,1008.2 1061.1,1010.1 1061.6,1012.1 1062.0,1014.1 1062.4,1015.9 1062.9,1017.9 1063.3,1019.8 1063.8,1021.8 1064.2,1023.7 1064.7,1025.7 1065.2,1027.6 1065.6,1029.6 1066.1,1031.5 1066.6,1033.4 1067.1,1035.4 1067.6,1037.4 1068.2,1039.2 1068.7,1041.2 1069.2,1043.1 1069.8,1045.0 1070.4,1046.9 1071.0,1048.9 1071.6,1050.8 1072.2,1052.6 1073.0,1054.6 1073.7,1056.4 1074.6,1058.2 1075.5,1059.9 1076.6,1061.6 1077.8,1063.2 1079.2,1064.7 1080.8,1065.9 1082.5,1066.8 1084.4,1067.5 1086.4,1068.0 1088.3,1068.4 1090.3,1068.7 1092.3,1069.0 1094.2,1069.3 1096.2,1069.5 1098.3,1069.8 1100.2,1070.0 1102.2,1070.3 1104.1,1070.5 1106.1,1070.7 1108.2,1070.9 1110.1,1071.1 1112.1,1071.3 1114.1,1071.5 1116.1,1071.7 1118.1,1071.9 1120.1,1072.0 1122.1,1072.2 1124.0,1072.4 1126.0,1072.5 1128.1,1072.7 1130.1,1072.8 1132.0,1073.0 1134.0,1073.1 1136.0,1073.2 1138.0,1073.4 1140.0,1073.5 1142.0,1073.6 1144.0,1073.8 1145.9,1073.9 1148.0,1074.0 1150.0,1074.1 1152.0,1074.2 1153.9,1074.3 1156.0,1074.4 1158.0,1074.5 1160.0,1074.6 1161.9,1074.7 1164.0,1074.8 1166.0,1074.9 1167.9,1075.0 1169.9,1075.1 1172.0,1075.1 1174.0,1075.2 1175.9,1075.3 1177.9,1075.4 1179.9,1075.4 1182.0,1075.5 1183.9,1075.6 1185.9,1075.6 1187.9,1075.7 1189.9,1075.8 1191.9,1075.8 1193.9,1075.9 1196.0,1075.9 1197.9,1076.0 1199.9,1076.0 1201.9,1076.1 1204.0,1076.1 1205.9,1076.2 1207.9,1076.2 1209.9,1076.2 1211.8,1076.3 1213.9,1076.3 1215.9,1076.4 1217.9,1076.4 1219.9,1076.4 1221.9,1076.5 1223.9,1076.5 1225.9,1076.5 1227.9,1076.5 1229.9,1076.6 1231.9,1076.6 1233.8,1076.6 1235.9,1076.6 1237.9,1076.7 1239.9,1076.7 1241.8,1076.7 1243.9,1076.7 1245.9,1076.8 1247.8,1076.8 1249.9,1076.8 1251.9,1076.8 1253.9,1076.9 1255.8,1076.9 1257.9,1076.9 1259.9,1076.9 1261.8,1076.9 1263.8,1076.9 1265.9,1077.0 1267.9,1077.0 1269.8,1077.0 1271.8,1077.0 1273.9,1077.1 1275.8,1077.1 1277.8,1077.1 1279.9,1077.1 1281.9,1077.1 1283.8,1077.2 1285.8,1077.2 1287.9,1077.2 1289.9,1077.2 1291.8,1077.2 1293.8,1077.3 1295.9,1077.3 1297.8,1077.3 1299.8,1077.3 1301.9,1077.4 1303.9,1077.4 1305.8,1077.4 1307.8,1077.4 1309.9,1077.5 1311.8,1077.5 1313.8,1077.5 1315.8,1077.5 1317.9,1077.5 1319.8,1077.6 1321.8,1077.6 1323.8,1077.6 1325.8,1077.6 1327.8,1077.7 1329.8,1077.7 1331.9,1077.7 1333.8,1077.7 1335.8,1077.8 1337.8,1077.8 1339.9,1077.8 1341.8,1077.8 1343.8,1077.8 1345.8,1077.9 1347.8,1077.9 1349.8,1077.9 1351.8,1077.9 1353.8,1078.0 1355.8,1078.0 1357.8,1078.0 1359.8,1078.0 1361.7,1078.1 1363.8,1078.1 1365.8,1078.1 1367.8,1078.1 1369.7,1078.1 1371.8,1078.2 1373.8,1078.2 1375.8,1078.2 1377.7,1078.2 1379.8,1078.3 1381.8,1078.3 1383.7,1078.3 1385.8,1078.3 1387.8,1078.3 1389.8,1078.4 1391.7,1078.4 1393.8,1078.4 1395.8,1078.4 1397.7,1078.4 1399.7,1078.5 1401.8,1078.5 1403.8,1078.5 1405.7,1078.5 1407.7,1078.5 1409.8,1078.5 1411.8,1078.6 1413.7,1078.6 1415.8,1078.6 1417.8,1078.6 1419.7,1078.6 1421.7,1078.6 1423.8,1078.7 1425.8,1078.7 1427.7,1078.7 1429.7,1078.7 1431.8,1078.7 1433.7,1078.7 1435.7,1078.7 1437.7,1078.8 1439.8,1078.8 1441.7,1078.8 1443.7,1078.8 1445.8,1078.8 1447.8,1078.8 1449.7,1078.8 1451.7,1078.8 1453.8,1078.8 1455.7,1078.9 1457.7,1078.9 1459.7,1078.9 1461.8,1078.9 1463.7,1078.9 1465.7,1078.9 1467.7,1078.9 1469.7,1078.9 1471.7,1078.9 1473.7,1078.9 1475.8,1079.0 1477.7,1079.0 1479.7,1079.0 1481.7,1079.0 1483.8,1079.0 1485.7,1079.0 1487.7,1079.0 1489.7,1079.0 1491.7,1079.0 1493.7,1079.0 1495.7,1079.0 1497.7,1079.0 1499.7,1079.0 1501.7,1079.0 1503.7,1079.0 1505.6,1079.0 1507.7,1079.1 1509.7,1079.1 1511.7,1079.1 1513.6,1079.1 1515.7,1079.1 1517.7,1079.1 1519.7,1079.1 1521.7,1079.1 1523.7,1079.1 1525.7,1079.1 1527.6,1079.1 1529.7,1079.1 1531.7,1079.1 1533.7,1079.1 1535.6,1079.1 1537.7,1079.1 1539.7,1079.1 1541.6,1079.1 1543.6,1079.1 1545.7,1079.1 1547.7,1079.1 1549.6,1079.1 1551.7,1079.1 1553.7,1079.1 1555.6,1079.1 1557.6,1079.1 1559.7,1079.1 1561.7,1079.1 1563.6,1079.1 1565.6,1079.1 1567.7,1079.1 1569.7,1079.2 1571.6,1079.2 1573.6,1079.2 1575.7,1079.2 1577.6,1079.2 1579.6,1079.2 1581.7,1079.2 1583.7,1079.2 1585.6,1079.2 1587.6,1079.2 1589.7,1079.2 1591.6,1079.2 1593.6,1079.2 1595.6,1079.2 1597.7,1079.2 1599.6,1079.2 1601.6,1079.2 1603.6,1079.2 1605.7,1079.2 1607.6,1079.2 1609.6,1079.2 1611.7,1079.2 1613.6,1079.2 1615.6,1079.2 1617.6,1079.2 1619.7,1079.2 1621.6,1079.2 1623.6,1079.2 1625.6,1079.2 1627.6,1079.2 1629.6,1079.2 1631.6,1079.2 1633.7,1079.2 1635.6,1079.2 1637.6,1079.3 1639.6,1079.3 1641.7,1079.3 1643.6,1079.3 1645.6,1079.3 1647.6,1079.3 1649.6,1079.3 1651.6,1079.3 1653.6,1079.3 1655.6,1079.3 1657.6,1079.3 1659.6,1079.3 1661.6,1079.3 1663.5,1079.3 1665.6,1079.3 1667.6,1079.3 1669.6,1079.3 1671.5,1079.4 1673.6,1079.4 1675.6,1079.4 1677.5,1079.4 1679.6,1079.4 1681.6,1079.4 1683.6,1079.4 1685.5,1079.4 1687.6,1079.4 1689.6,1079.4 1691.6,1079.4 1693.5,1079.4 1695.6,1079.5 1697.6,1079.5 1699.5,1079.5 1701.5,1079.5 1703.6,1079.5 1705.6,1079.5 1707.5,1079.5 1709.6,1079.5 1711.6,1079.5 1713.5,1079.6 M1713.5,1079.5 L1715.5,1080.6 L1717.5,1083.2 L1719.5,1084.4 L1732.6,1084.4" fill="none" stroke="#808000" stroke-width="5.4" stroke-linejoin="round" stroke-linecap="round"/>
<path d="M272.2,23.7 L272.2,1121.3 M250.4,1110 L1743,1110 M249.9,903.2 L272.2,903.2 M249.9,696.4 L272.2,696.4 M249.9,489.6 L272.2,489.6 M249.9,282.8 L272.2,282.8 M249.9,76.0 L272.2,76.0 M261.8,1006.6 L272.2,1006.6 M261.8,799.8 L272.2,799.8 M261.8,593.0 L272.2,593.0 M261.8,386.2 L272.2,386.2 M261.8,179.4 L272.2,179.4 M405.9,1110 L405.9,1132 M673.4,1110 L673.4,1132 M940.8,1110 L940.8,1132 M1208.3,1110 L1208.3,1132 M1475.7,1110 L1475.7,1132 M1743.2,1110 L1743.2,1132 M539.6,1110 L539.6,1121.4 M807.1,1110 L807.1,1121.4 M1074.5,1110 L1074.5,1121.4 M1342.0,1110 L1342.0,1121.4 M1609.5,1110 L1609.5,1121.4" fill="none" stroke="#000" stroke-width="7.8" stroke-linecap="round"/>
<rect x="1739.10" y="1106.10" width="7.8" height="7.8" fill="#000"/>
<text transform="translate(234.7,1125.3) scale(1,1.03)" text-anchor="end" class="tl">0</text>
<text transform="translate(234.7,918.5) scale(1,1.03)" text-anchor="end" class="tl">20</text>
<text transform="translate(234.7,711.7) scale(1,1.03)" text-anchor="end" class="tl">40</text>
<text transform="translate(234.7,504.9) scale(1,1.03)" text-anchor="end" class="tl">60</text>
<text transform="translate(234.7,298.1) scale(1,1.03)" text-anchor="end" class="tl">80</text>
<text transform="translate(234.7,91.3) scale(1,1.03)" text-anchor="end" class="tl">100</text>
<text transform="translate(405.9,1191.7) scale(1,1.03)" text-anchor="middle" class="tl">100</text>
<text transform="translate(673.4,1191.7) scale(1,1.03)" text-anchor="middle" class="tl">200</text>
<text transform="translate(940.8,1191.7) scale(1,1.03)" text-anchor="middle" class="tl">300</text>
<text transform="translate(1208.3,1191.7) scale(1,1.03)" text-anchor="middle" class="tl">400</text>
<text transform="translate(1475.7,1191.7) scale(1,1.03)" text-anchor="middle" class="tl">500</text>
<text transform="translate(1743.2,1191.7) scale(1,1.03)" text-anchor="middle" class="tl">600</text>
<text x="663" y="1294.3" class="ti">Temperature(</text>
<text transform="translate(1214.4,1292.3) scale(1,0.87)" class="deg">℃</text>
<text x="1309" y="1294.3" class="ti">)</text>
<text transform="translate(77.8,581.9) rotate(-90)" text-anchor="middle" class="ti">Weight(%)</text>
<path d="M363.5,483.4 L438.7,483.4" stroke="#000000" stroke-width="5.2" stroke-linecap="butt"/>
<circle cx="363.5" cy="483.4" r="2.6" fill="#000000"/>
<text transform="translate(455.5,494.4) scale(1,1.04)" class="lg">ADP</text>
<path d="M363.5,555.6 L438.7,555.6" stroke="#ff0000" stroke-width="5.2" stroke-linecap="butt"/>
<circle cx="363.5" cy="555.6" r="2.6" fill="#ff0000"/>
<text transform="translate(455.5,567.0) scale(1,1.04)" class="lg">E87M13B0</text>
<path d="M363.5,626.6 L438.7,626.6" stroke="#800080" stroke-width="5.2" stroke-linecap="butt"/>
<circle cx="363.5" cy="626.6" r="2.6" fill="#800080"/>
<text transform="translate(455.5,637.8) scale(1,1.04)" class="lg">E70M29B1</text>
<path d="M363.5,698.3 L438.7,698.3" stroke="#0000ff" stroke-width="5.2" stroke-linecap="butt"/>
<circle cx="363.5" cy="698.3" r="2.6" fill="#0000ff"/>
<text transform="translate(455.5,709.5) scale(1,1.04)" class="lg">E60M38B2</text>
<path d="M363.5,770.1 L438.7,770.1" stroke="#ff0080" stroke-width="5.2" stroke-linecap="butt"/>
<circle cx="363.5" cy="770.1" r="2.6" fill="#ff0080"/>
<text transform="translate(455.5,781.5) scale(1,1.04)" class="lg">E45M52B3</text>
<path d="M363.5,841.7 L438.7,841.7" stroke="#008000" stroke-width="5.2" stroke-linecap="butt"/>
<circle cx="363.5" cy="841.7" r="2.6" fill="#008000"/>
<text transform="translate(455.5,853.0) scale(1,1.04)" class="lg">E28M68B4</text>
<path d="M363.5,912.9 L438.7,912.9" stroke="#ff8000" stroke-width="5.2" stroke-linecap="butt"/>
<circle cx="363.5" cy="912.9" r="2.6" fill="#ff8000"/>
<text transform="translate(455.5,924.1) scale(1,1.04)" class="lg">E3M52B45</text>
<path d="M363.5,984.7 L438.7,984.7" stroke="#808000" stroke-width="5.2" stroke-linecap="butt"/>
<circle cx="363.5" cy="984.7" r="2.6" fill="#808000"/>
<text transform="translate(455.5,995.8) scale(1,1.04)" class="lg">ABP</text>
</svg>
</body></html>
